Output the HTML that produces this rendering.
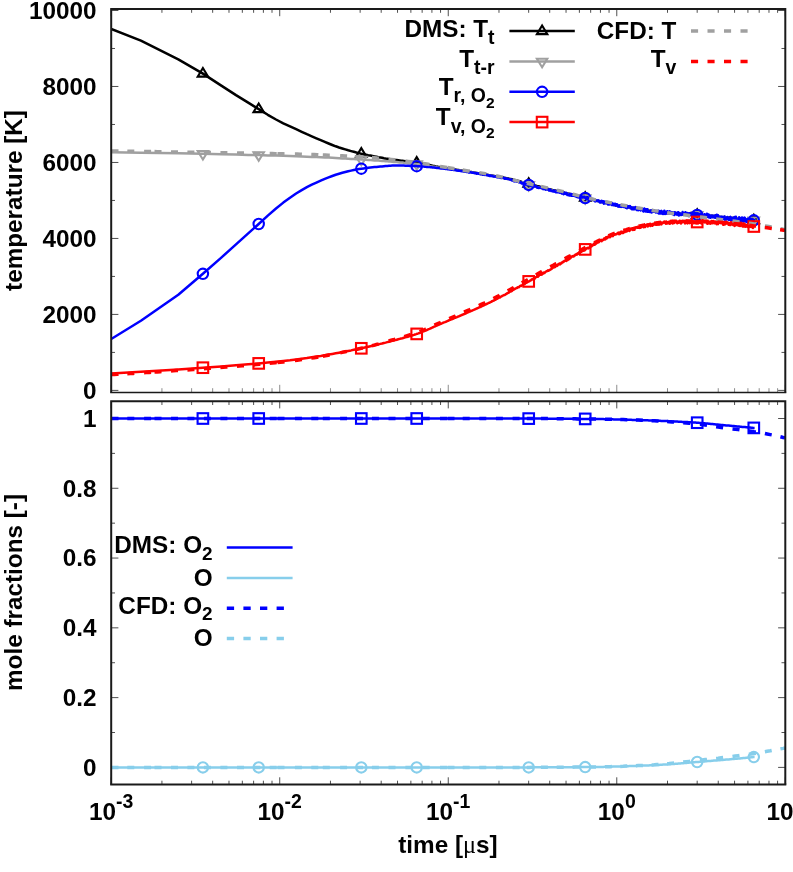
<!DOCTYPE html>
<html><head><meta charset="utf-8"><title>chart</title>
<style>html,body{margin:0;padding:0;background:#fff;}svg{display:block;}text{font-family:"Liberation Sans",sans-serif;}</style></head>
<body>
<svg width="793" height="872" viewBox="0 0 793 872" font-family='"Liberation Sans", sans-serif' font-weight="bold" fill="#000">
<rect width="793" height="872" fill="#fff"/>
<defs><clipPath id="c1"><rect x="111.2" y="9.0" width="674.1" height="383.0"/></clipPath><clipPath id="c2"><rect x="111.2" y="401.2" width="674.1" height="383.3"/></clipPath></defs>
<path d="M111.20 9.00 v7.20 M161.93 9.00 v3.80 M191.61 9.00 v3.80 M212.66 9.00 v3.80 M228.99 9.00 v3.80 M242.34 9.00 v3.80 M253.62 9.00 v3.80 M263.39 9.00 v3.80 M272.01 9.00 v3.80 M279.72 9.00 v7.20 M330.46 9.00 v3.80 M360.13 9.00 v3.80 M381.19 9.00 v3.80 M397.52 9.00 v3.80 M410.86 9.00 v3.80 M422.15 9.00 v3.80 M431.92 9.00 v3.80 M440.54 9.00 v3.80 M448.25 9.00 v7.20 M498.98 9.00 v3.80 M528.66 9.00 v3.80 M549.71 9.00 v3.80 M566.04 9.00 v3.80 M579.39 9.00 v3.80 M590.67 9.00 v3.80 M600.44 9.00 v3.80 M609.06 9.00 v3.80 M616.77 9.00 v7.20 M667.51 9.00 v3.80 M697.18 9.00 v3.80 M718.24 9.00 v3.80 M734.57 9.00 v3.80 M747.91 9.00 v3.80 M759.20 9.00 v3.80 M768.97 9.00 v3.80 M777.59 9.00 v3.80 M785.30 9.00 v7.20" stroke="#3c3c3c" stroke-width="0.9" fill="none"/><path d="M111.20 392.00 v-7.20 M161.93 392.00 v-3.80 M191.61 392.00 v-3.80 M212.66 392.00 v-3.80 M228.99 392.00 v-3.80 M242.34 392.00 v-3.80 M253.62 392.00 v-3.80 M263.39 392.00 v-3.80 M272.01 392.00 v-3.80 M279.72 392.00 v-7.20 M330.46 392.00 v-3.80 M360.13 392.00 v-3.80 M381.19 392.00 v-3.80 M397.52 392.00 v-3.80 M410.86 392.00 v-3.80 M422.15 392.00 v-3.80 M431.92 392.00 v-3.80 M440.54 392.00 v-3.80 M448.25 392.00 v-7.20 M498.98 392.00 v-3.80 M528.66 392.00 v-3.80 M549.71 392.00 v-3.80 M566.04 392.00 v-3.80 M579.39 392.00 v-3.80 M590.67 392.00 v-3.80 M600.44 392.00 v-3.80 M609.06 392.00 v-3.80 M616.77 392.00 v-7.20 M667.51 392.00 v-3.80 M697.18 392.00 v-3.80 M718.24 392.00 v-3.80 M734.57 392.00 v-3.80 M747.91 392.00 v-3.80 M759.20 392.00 v-3.80 M768.97 392.00 v-3.80 M777.59 392.00 v-3.80 M785.30 392.00 v-7.20" stroke="#808080" stroke-width="0.9" fill="none"/>
<path d="M111.20 390.40 h7.20 M785.30 390.40 h-7.20 M111.20 314.42 h7.20 M785.30 314.42 h-7.20 M111.20 238.44 h7.20 M785.30 238.44 h-7.20 M111.20 162.46 h7.20 M785.30 162.46 h-7.20 M111.20 86.48 h7.20 M785.30 86.48 h-7.20 M111.20 10.50 h7.20 M785.30 10.50 h-7.20 M111.20 352.41 h3.80 M785.30 352.41 h-3.80 M111.20 276.43 h3.80 M785.30 276.43 h-3.80 M111.20 200.45 h3.80 M785.30 200.45 h-3.80 M111.20 124.47 h3.80 M785.30 124.47 h-3.80 M111.20 48.49 h3.80 M785.30 48.49 h-3.80" stroke="#3c3c3c" stroke-width="0.9" fill="none"/>
<g clip-path="url(#c1)">
<path d="M111.2 29.0 L140.9 40.6 L178.3 59.3 L202.9 73.6 L221.3 85.6 L236.0 95.1 L248.2 102.6 L258.7 109.1 L267.8 114.8 L276.0 119.5 L283.3 123.3 L290.0 126.4 L296.1 129.2 L301.7 131.8 L306.9 134.2 L311.8 136.3 L316.4 138.3 L320.7 140.1 L324.8 141.9 L328.6 143.5 L332.3 145.0 L335.7 146.3 L339.1 147.5 L342.3 148.5 L345.3 149.4 L348.2 150.3 L351.1 151.1 L353.8 151.8 L356.4 152.5 L358.9 153.1 L361.3 153.7 L363.7 154.2 L366.0 154.7 L368.2 155.2 L370.4 155.6 L372.5 156.0 L374.5 156.4 L376.5 156.8 L378.4 157.2 L380.3 157.5 L382.1 157.8 L383.9 158.2 L385.6 158.5 L387.3 158.7 L389.0 159.0 L390.6 159.3 L392.2 159.5 L393.8 159.7 L395.3 159.9 L396.8 160.1 L398.2 160.3 L399.7 160.5 L401.1 160.7 L402.5 160.8 L403.8 161.0 L405.2 161.2 L406.5 161.3 L407.7 161.5 L409.0 161.6 L410.3 161.8 L411.5 162.0 L412.7 162.1 L413.9 162.3 L415.0 162.4 L416.2 162.6 L417.3 162.8 L418.4 163.0 L419.5 163.1 L420.6 163.3 L421.6 163.5 L422.7 163.7 L423.7 163.9 L424.7 164.1 L425.7 164.3 L426.7 164.5 L427.7 164.7 L428.6 164.9 L429.6 165.1 L430.5 165.3 L431.5 165.5 L432.4 165.7 L433.3 165.9 L434.2 166.0 L435.1 166.2 L435.9 166.4 L436.8 166.6 L437.6 166.7 L438.5 166.9 L439.3 167.0 L440.1 167.2 L440.9 167.3 L441.7 167.5 L442.5 167.6 L443.3 167.7 L444.1 167.9 L444.9 168.0 L445.6 168.1 L446.4 168.2 L447.1 168.4 L447.9 168.5 L448.6 168.6 L449.3 168.7 L450.1 168.8 L450.8 168.9 L451.5 169.0 L452.2 169.1 L452.9 169.2 L453.5 169.3 L454.2 169.4 L454.9 169.5 L455.6 169.6 L456.2 169.7 L456.9 169.8 L457.5 169.9 L458.2 170.0 L458.8 170.1 L459.4 170.2 L460.1 170.3 L460.7 170.4 L461.3 170.5 L461.9 170.6 L462.5 170.7 L463.1 170.8 L463.7 170.9 L464.3 170.9 L464.9 171.0 L465.5 171.1 L466.0 171.2 L466.6 171.3 L467.2 171.4 L467.7 171.5 L468.3 171.6 L468.8 171.7 L469.4 171.8 L469.9 171.9 L470.5 172.0 L471.0 172.0 L471.6 172.1 L472.1 172.2 L472.6 172.3 L473.1 172.4 L473.7 172.5 L474.2 172.6 L474.7 172.7 L475.2 172.7 L475.7 172.8 L476.2 172.9 L476.7 173.0 L477.2 173.1 L477.7 173.2 L478.2 173.2 L478.7 173.3 L479.1 173.4 L479.6 173.5 L480.1 173.6 L480.6 173.7 L481.0 173.7 L481.5 173.8 L482.0 173.9 L482.4 174.0 L482.9 174.1 L483.3 174.1 L483.8 174.2 L484.2 174.3 L484.7 174.4 L485.1 174.5 L485.6 174.5 L486.0 174.6 L486.4 174.7 L486.9 174.8 L487.3 174.8 L487.7 174.9 L488.2 175.0 L488.6 175.0 L489.0 175.1 L489.4 175.2 L489.8 175.3 L490.2 175.3 L490.7 175.4 L491.1 175.5 L491.5 175.6 L491.9 175.6 L492.3 175.7 L493.1 175.8 L493.9 176.0 L494.6 176.1 L495.4 176.2 L496.2 176.4 L496.9 176.5 L497.7 176.6 L498.4 176.7 L499.2 176.9 L499.9 177.0 L500.6 177.1 L501.3 177.2 L502.0 177.3 L502.7 177.5 L503.4 177.6 L504.1 177.7 L504.8 177.9 L505.5 178.0 L506.1 178.1 L506.8 178.2 L507.4 178.4 L508.1 178.5 L508.7 178.6 L509.4 178.8 L510.0 178.9 L510.6 179.0 L511.2 179.1 L511.9 179.3 L512.5 179.5 L513.1 179.6 L513.7 179.8 L514.3 179.9 L514.9 180.1 L515.5 180.2 L516.0 180.3 L516.6 180.5 L517.2 180.6 L517.8 180.9 L518.3 181.0 L518.9 181.2 L519.4 181.3 L520.0 181.5 L520.5 181.5 L521.1 181.7 L521.6 181.9 L522.2 182.1 L522.7 182.2 L523.2 182.3 L523.7 182.5 L524.3 182.6 L524.8 182.7 L525.3 182.9 L525.8 183.0 L526.3 183.2 L526.8 183.4 L527.3 183.5 L527.8 183.6 L528.3 183.7 L528.8 183.9 L529.3 184.0 L529.7 184.1 L530.2 184.3 L530.7 184.4 L531.2 184.4 L531.6 184.7 L532.1 184.7 L532.6 184.8 L533.0 185.0 L533.5 185.1 L533.9 185.1 L534.4 185.4 L534.9 185.4 L535.3 185.5 L535.7 185.7 L536.2 185.8 L536.6 185.9 L537.1 186.1 L537.5 186.2 L537.9 186.3 L538.4 186.3 L538.8 186.5 L539.2 186.6 L539.6 186.6 L540.0 186.8 L540.5 186.9 L540.9 187.1 L541.3 187.2 L541.7 187.2 L542.1 187.3 L542.5 187.5 L542.9 187.5 L543.3 187.6 L543.9 187.8 L544.5 187.9 L545.1 188.2 L545.7 188.4 L546.2 188.3 L546.8 188.6 L547.4 188.8 L548.0 189.0 L548.5 188.9 L549.1 189.1 L549.6 189.4 L550.2 189.5 L550.7 189.5 L551.3 189.7 L551.8 189.9 L552.3 190.0 L552.8 190.0 L553.4 190.3 L553.9 190.4 L554.4 190.5 L554.9 190.5 L555.4 190.6 L555.9 190.8 L556.4 191.1 L556.9 190.9 L557.4 191.1 L557.9 191.3 L558.4 191.3 L558.9 191.4 L559.4 191.5 L559.9 191.8 L560.3 192.0 L560.8 192.0 L561.3 192.0 L561.7 192.2 L562.2 192.4 L562.7 192.6 L563.1 192.7 L563.6 192.6 L564.0 192.6 L564.5 193.0 L564.9 193.1 L565.4 193.1 L565.8 193.3 L566.3 193.4 L566.7 193.4 L567.1 193.6 L567.6 193.4 L568.0 193.6 L568.4 193.7 L568.8 193.8 L569.3 194.2 L569.7 193.9 L570.1 194.3 L570.5 194.1 L570.9 194.3 L571.3 194.5 L571.7 194.5 L572.1 194.7 L572.6 194.8 L573.0 194.8 L573.5 195.1 L574.0 195.0 L574.5 195.1 L575.1 195.3 L575.6 195.4 L576.1 195.5 L576.6 195.9 L577.1 196.0 L577.6 195.8 L578.1 196.0 L578.6 196.1 L579.1 196.3 L579.6 196.3 L580.1 196.5 L580.5 196.8 L581.0 196.7 L581.5 196.9 L582.0 197.0 L582.4 197.2 L582.9 197.0 L583.4 197.4 L583.8 197.6 L584.3 197.6 L584.7 197.5 L585.2 197.8 L585.6 198.0 L586.1 198.0 L586.5 197.9 L587.0 198.4 L587.4 198.5 L587.8 198.4 L588.3 198.5 L588.7 198.4 L589.1 199.0 L589.6 199.0 L590.0 199.0 L590.4 199.2 L590.8 199.0 L591.2 199.1 L591.7 199.2 L592.1 199.5 L592.5 199.3 L592.9 199.9 L593.3 199.7 L593.7 199.8 L594.1 199.7 L594.6 200.2 L595.1 200.4 L595.6 200.4 L596.1 200.3 L596.5 200.7 L597.0 200.5 L597.5 201.0 L598.0 201.0 L598.4 200.9 L598.9 201.2 L599.4 201.4 L599.8 201.3 L600.3 201.7 L600.8 201.6 L601.2 202.0 L601.7 202.0 L602.1 201.7 L602.6 202.2 L603.0 202.1 L603.4 202.4 L603.9 202.4 L604.3 202.5 L604.8 202.8 L605.2 202.4 L605.6 202.8 L606.0 202.8 L606.5 202.7 L606.9 203.2 L607.3 203.2 L607.7 203.5 L608.1 203.4 L608.5 203.3 L608.9 203.8 L609.3 203.4 L609.8 203.4 L610.2 203.9 L610.6 203.8 L611.1 203.9 L611.6 204.3 L612.1 204.1 L612.5 204.5 L613.0 204.5 L613.4 204.4 L613.9 204.3 L614.4 204.5 L614.8 205.1 L615.3 204.8 L615.7 204.7 L616.2 204.9 L616.6 205.4 L617.0 204.9 L617.5 205.5 L617.9 205.1 L618.3 205.8 L618.8 205.5 L619.2 205.3 L619.6 206.0 L620.0 205.6 L620.5 206.0 L620.9 205.9 L621.3 205.7 L621.7 205.8 L622.1 205.9 L622.5 205.9 L622.9 205.9 L623.3 206.0 L623.7 206.8 L624.2 206.2 L624.6 206.6 L625.1 206.4 L625.6 206.5 L626.0 207.0 L626.5 207.2 L626.9 207.0 L627.4 206.7 L627.8 207.5 L628.2 206.9 L628.7 207.2 L629.1 207.4 L629.5 207.8 L630.0 207.8 L630.4 207.7 L630.8 207.6 L631.2 208.0 L631.7 208.1 L632.1 208.2 L632.5 208.1 L632.9 207.7 L633.3 207.9 L633.7 208.2 L634.1 208.3 L634.5 208.6 L634.9 208.2 L635.4 208.6 L635.8 208.5 L636.3 208.9 L636.7 208.5 L637.2 208.8 L637.6 208.5 L638.1 208.7 L638.5 209.4 L638.9 208.9 L639.4 209.5 L639.8 209.3 L640.2 208.9 L640.6 209.7 L641.1 209.1 L641.5 209.8 L641.9 209.2 L642.3 209.8 L642.7 209.4 L643.1 209.7 L643.5 210.3 L643.9 209.9 L644.3 210.2 L644.7 210.3 L645.2 209.8 L645.6 210.5 L646.1 210.7 L646.5 210.0 L647.0 210.5 L647.4 210.3 L647.8 210.8 L648.3 210.1 L648.7 210.7 L649.1 211.0 L649.5 211.0 L650.0 210.4 L650.4 211.2 L650.8 210.7 L651.2 211.3 L651.6 211.0 L652.0 210.8 L652.4 211.4 L652.8 211.5 L653.2 211.4 L653.7 211.8 L654.1 211.1 L654.5 211.1 L655.0 211.1 L655.4 211.6 L655.8 211.5 L656.3 211.5 L656.7 211.6 L657.1 211.5 L657.5 211.2 L658.0 211.8 L658.4 211.6 L658.8 211.8 L659.2 212.4 L659.6 211.6 L660.0 212.2 L660.4 212.2 L660.8 211.9 L661.3 212.1 L661.7 212.7 L662.1 212.1 L662.6 212.5 L663.0 212.7 L663.4 212.2 L663.8 213.0 L664.3 212.6 L664.7 212.5 L665.1 212.8 L665.5 212.5 L665.9 212.9 L666.3 212.4 L666.8 213.2 L667.2 212.8 L667.6 212.5 L668.0 212.7 L668.4 213.3 L668.8 213.2 L669.3 212.9 L669.7 212.8 L670.1 212.9 L670.5 213.6 L671.0 212.6 L671.4 213.6 L671.8 213.6 L672.2 212.9 L672.6 213.0 L673.0 213.3 L673.4 213.6 L673.8 213.8 L674.2 213.9 L674.7 213.1 L675.1 213.0 L675.5 213.4 L675.9 213.5 L676.4 213.7 L676.8 213.1 L677.2 213.7 L677.6 214.1 L678.0 214.1 L678.4 214.2 L678.9 214.2 L679.3 214.3 L679.7 213.2 L680.1 214.3 L680.5 213.5 L680.9 213.6 L681.4 213.8 L681.8 214.4 L682.2 214.0 L682.6 213.7 L683.0 213.8 L683.4 214.5 L683.9 214.4 L684.3 213.6 L684.7 213.7 L685.1 213.9 L685.5 213.7 L685.9 214.2 L686.3 213.8 L686.8 214.3 L687.2 214.8 L687.6 214.7 L688.0 213.7 L688.4 213.9 L688.8 214.2 L689.2 214.6 L689.6 214.2 L690.1 214.1 L690.5 214.2 L690.9 214.1 L691.3 215.0 L691.7 214.8 L692.1 214.4 L692.5 214.9 L693.0 214.6 L693.4 214.7 L693.8 214.5 L694.2 214.7 L694.6 215.4 L695.0 215.2 L695.4 215.3 L695.8 214.3 L696.2 214.9 L696.7 214.7 L697.1 214.4 L697.5 214.8 L697.9 214.4 L698.3 214.7 L698.7 215.5 L699.1 215.4 L699.5 215.4 L699.9 214.6 L700.3 214.7 L700.8 214.6 L701.2 214.7 L701.6 214.8 L702.0 216.0 L702.4 216.0 L702.8 215.0 L703.2 215.1 L703.6 216.2 L704.0 215.7 L704.5 215.4 L704.9 215.6 L705.3 215.3 L705.7 215.8 L706.1 216.1 L706.5 215.8 L706.9 216.3 L707.3 215.3 L707.7 216.1 L708.1 216.7 L708.6 215.5 L709.0 216.0 L709.4 216.3 L709.8 215.9 L710.2 216.9 L710.6 216.2 L711.0 216.2 L711.4 216.9 L711.8 215.6 L712.2 217.0 L712.7 215.8 L713.1 216.3 L713.5 216.5 L713.9 216.5 L714.3 215.9 L714.7 216.3 L715.1 216.4 L715.5 217.4 L715.9 217.4 L716.4 216.9 L716.8 217.5 L717.2 217.5 L717.6 216.7 L718.0 216.4 L718.4 217.2 L718.8 216.8 L719.2 216.3 L719.6 217.9 L720.0 218.0 L720.4 217.3 L720.9 217.5 L721.3 217.6 L721.7 218.1 L722.1 217.4 L722.5 217.6 L722.9 217.0 L723.3 217.1 L723.7 217.6 L724.1 217.2 L724.5 216.9 L724.9 217.5 L725.3 218.2 L725.8 217.4 L726.2 218.5 L726.6 218.2 L727.0 218.2 L727.4 218.6 L727.8 217.3 L728.2 217.5 L728.6 218.8 L729.0 218.8 L729.4 217.5 L729.8 218.7 L730.2 217.4 L730.6 217.7 L731.0 217.7 L731.5 218.0 L731.9 218.2 L732.3 219.2 L732.7 218.4 L733.1 217.9 L733.5 218.2 L733.9 217.7 L734.3 217.8 L734.7 218.6 L735.1 218.8 L735.5 218.3 L735.9 218.6 L736.3 218.1 L736.7 219.2 L737.2 218.7 L737.6 218.4 L738.0 219.0 L738.4 218.5 L738.8 218.7 L739.2 218.4 L739.6 219.7 L740.0 218.8 L740.4 220.1 L740.8 219.1 L741.2 218.7 L741.6 219.7 L742.0 219.8 L742.5 220.1 L742.9 218.8 L743.3 220.0 L743.7 220.2 L744.1 219.2 L744.5 219.5 L744.9 219.8 L745.3 219.2 L745.7 220.4 L746.1 220.1 L746.5 220.4 L746.9 219.7 L747.3 219.9 L747.7 219.3 L748.1 219.5 L748.5 220.4 L748.9 220.8 L749.4 219.3 L749.8 219.1 L750.2 219.2 L750.6 220.0 L751.0 220.7 L751.4 219.6 L751.8 220.1 L752.2 220.2 L752.6 220.9 L753.0 219.6 L753.4 219.4 L753.8 220.4 L754.2 220.1 L754.6 220.0" fill="none" stroke="#000000" stroke-width="2.50" stroke-linejoin="round"/>
<polygon points="202.9,68.0 197.7,76.6 208.1,76.6" fill="none" stroke="#000000" stroke-width="2.10" stroke-linejoin="miter"/>
<polygon points="258.7,103.5 253.5,112.1 263.9,112.1" fill="none" stroke="#000000" stroke-width="2.10" stroke-linejoin="miter"/>
<polygon points="361.3,148.1 356.1,156.7 366.5,156.7" fill="none" stroke="#000000" stroke-width="2.10" stroke-linejoin="miter"/>
<polygon points="416.7,157.1 411.5,165.7 421.9,165.7" fill="none" stroke="#000000" stroke-width="2.10" stroke-linejoin="miter"/>
<polygon points="528.7,178.2 523.5,186.8 533.9,186.8" fill="none" stroke="#000000" stroke-width="2.10" stroke-linejoin="miter"/>
<polygon points="585.2,192.2 580.0,200.8 590.4,200.8" fill="none" stroke="#000000" stroke-width="2.10" stroke-linejoin="miter"/>
<polygon points="697.2,209.3 692.0,217.9 702.4,217.9" fill="none" stroke="#000000" stroke-width="2.10" stroke-linejoin="miter"/>
<polygon points="753.8,214.7 748.6,223.3 759.0,223.3" fill="none" stroke="#000000" stroke-width="2.10" stroke-linejoin="miter"/>
<path d="M111.2 152.3 L140.9 152.7 L178.3 153.3 L202.9 153.8 L221.3 154.2 L236.0 154.5 L248.2 154.9 L258.7 155.1 L267.8 155.4 L276.0 155.6 L283.3 155.8 L290.0 156.0 L296.1 156.3 L301.7 156.5 L306.9 156.7 L311.8 156.9 L316.4 157.1 L320.7 157.3 L324.8 157.5 L328.6 157.6 L332.3 157.8 L335.7 158.0 L339.1 158.2 L342.3 158.4 L345.3 158.5 L348.2 158.7 L351.1 158.9 L353.8 159.0 L356.4 159.2 L358.9 159.3 L361.3 159.5 L363.7 159.6 L366.0 159.8 L368.2 159.9 L370.4 160.1 L372.5 160.2 L374.5 160.4 L376.5 160.5 L378.4 160.6 L380.3 160.8 L382.1 160.9 L383.9 161.1 L385.6 161.2 L387.3 161.3 L389.0 161.5 L390.6 161.6 L392.2 161.7 L393.8 161.9 L395.3 162.0 L396.8 162.1 L398.2 162.2 L399.7 162.4 L401.1 162.5 L402.5 162.6 L403.8 162.8 L405.2 162.9 L406.5 163.0 L407.7 163.2 L409.0 163.3 L410.3 163.4 L411.5 163.5 L412.7 163.7 L413.9 163.8 L415.0 163.9 L416.2 164.1 L417.3 164.2 L418.4 164.3 L419.5 164.5 L420.6 164.6 L421.6 164.7 L422.7 164.9 L423.7 165.1 L424.7 165.2 L425.7 165.4 L426.7 165.5 L427.7 165.7 L428.6 165.9 L429.6 166.0 L430.5 166.2 L431.5 166.4 L432.4 166.5 L433.3 166.7 L434.2 166.8 L435.1 167.0 L435.9 167.1 L436.8 167.3 L437.6 167.4 L438.5 167.6 L439.3 167.7 L440.1 167.8 L440.9 167.9 L441.7 168.1 L442.5 168.2 L443.3 168.3 L444.1 168.4 L444.9 168.5 L445.6 168.6 L446.4 168.7 L447.1 168.8 L447.9 169.0 L448.6 169.1 L449.3 169.2 L450.1 169.3 L450.8 169.4 L451.5 169.5 L452.2 169.5 L452.9 169.6 L453.5 169.7 L454.2 169.8 L454.9 169.9 L455.6 170.0 L456.2 170.1 L456.9 170.2 L457.5 170.3 L458.2 170.4 L458.8 170.5 L459.4 170.6 L460.1 170.6 L460.7 170.7 L461.3 170.8 L461.9 170.9 L462.5 171.0 L463.1 171.1 L463.7 171.2 L464.3 171.3 L464.9 171.4 L465.5 171.4 L466.0 171.5 L466.6 171.6 L467.2 171.7 L467.7 171.8 L468.3 171.9 L468.8 172.0 L469.4 172.1 L469.9 172.1 L470.5 172.2 L471.0 172.3 L471.6 172.4 L472.1 172.5 L472.6 172.6 L473.1 172.7 L473.7 172.7 L474.2 172.8 L474.7 172.9 L475.2 173.0 L475.7 173.1 L476.2 173.2 L476.7 173.3 L477.2 173.3 L477.7 173.4 L478.2 173.5 L478.7 173.6 L479.1 173.7 L479.6 173.7 L480.1 173.8 L480.6 173.9 L481.0 174.0 L481.5 174.1 L482.0 174.2 L482.4 174.2 L482.9 174.3 L483.3 174.4 L483.8 174.5 L484.2 174.6 L484.7 174.6 L485.1 174.7 L485.6 174.8 L486.0 174.9 L486.4 175.0 L486.9 175.0 L487.3 175.1 L487.7 175.2 L488.2 175.3 L488.6 175.3 L489.0 175.4 L489.4 175.5 L489.8 175.6 L490.2 175.6 L490.7 175.7 L491.1 175.8 L491.5 175.9 L491.9 175.9 L492.3 176.0 L493.1 176.2 L493.9 176.3 L494.6 176.4 L495.4 176.6 L496.2 176.8 L496.9 176.9 L497.7 177.0 L498.4 177.2 L499.2 177.3 L499.9 177.5 L500.6 177.6 L501.3 177.7 L502.0 177.9 L502.7 178.0 L503.4 178.2 L504.1 178.3 L504.8 178.4 L505.5 178.6 L506.1 178.7 L506.8 178.9 L507.4 179.0 L508.1 179.1 L508.7 179.3 L509.4 179.5 L510.0 179.6 L510.6 179.7 L511.2 179.9 L511.9 180.1 L512.5 180.2 L513.1 180.4 L513.7 180.6 L514.3 180.7 L514.9 180.8 L515.5 181.0 L516.0 181.2 L516.6 181.4 L517.2 181.5 L517.8 181.7 L518.3 181.9 L518.9 182.0 L519.4 182.2 L520.0 182.4 L520.5 182.5 L521.1 182.7 L521.6 182.9 L522.2 183.1 L522.7 183.3 L523.2 183.3 L523.7 183.5 L524.3 183.7 L524.8 183.8 L525.3 183.9 L525.8 184.1 L526.3 184.3 L526.8 184.5 L527.3 184.6 L527.8 184.7 L528.3 184.8 L528.8 185.0 L529.3 185.0 L529.7 185.2 L530.2 185.3 L530.7 185.5 L531.2 185.5 L531.6 185.7 L532.1 185.8 L532.6 186.0 L533.0 186.0 L533.5 186.1 L533.9 186.2 L534.4 186.3 L534.9 186.5 L535.3 186.6 L535.7 186.6 L536.2 186.9 L536.6 186.9 L537.1 187.0 L537.5 187.2 L537.9 187.2 L538.4 187.3 L538.8 187.5 L539.2 187.5 L539.6 187.7 L540.0 187.7 L540.5 187.9 L540.9 188.0 L541.3 188.0 L541.7 188.1 L542.1 188.3 L542.5 188.4 L542.9 188.4 L543.3 188.5 L543.9 188.8 L544.5 188.8 L545.1 189.0 L545.7 189.0 L546.2 189.2 L546.8 189.4 L547.4 189.5 L548.0 189.7 L548.5 189.8 L549.1 189.9 L549.6 190.1 L550.2 190.2 L550.7 190.2 L551.3 190.5 L551.8 190.5 L552.3 190.6 L552.8 190.7 L553.4 191.0 L553.9 191.0 L554.4 191.0 L554.9 191.3 L555.4 191.2 L555.9 191.4 L556.4 191.6 L556.9 191.7 L557.4 191.7 L557.9 191.8 L558.4 192.0 L558.9 192.2 L559.4 192.3 L559.9 192.3 L560.3 192.5 L560.8 192.6 L561.3 192.8 L561.7 192.8 L562.2 193.0 L562.7 192.9 L563.1 193.0 L563.6 193.1 L564.0 193.3 L564.5 193.5 L564.9 193.5 L565.4 193.6 L565.8 193.5 L566.3 193.8 L566.7 193.8 L567.1 193.9 L567.6 193.9 L568.0 194.2 L568.4 194.3 L568.8 194.4 L569.3 194.5 L569.7 194.5 L570.1 194.7 L570.5 194.7 L570.9 194.9 L571.3 194.8 L571.7 195.0 L572.1 194.9 L572.6 195.0 L573.0 195.4 L573.5 195.3 L574.0 195.3 L574.5 195.6 L575.1 195.9 L575.6 195.9 L576.1 196.1 L576.6 196.2 L577.1 196.1 L577.6 196.1 L578.1 196.2 L578.6 196.4 L579.1 196.6 L579.6 196.9 L580.1 196.6 L580.5 197.0 L581.0 197.1 L581.5 197.2 L582.0 197.0 L582.4 197.1 L582.9 197.5 L583.4 197.6 L583.8 197.6 L584.3 197.7 L584.7 197.6 L585.2 198.2 L585.6 198.2 L586.1 198.4 L586.5 198.4 L587.0 198.3 L587.4 198.6 L587.8 198.4 L588.3 198.7 L588.7 198.6 L589.1 198.8 L589.6 199.2 L590.0 199.0 L590.4 199.4 L590.8 199.3 L591.2 199.3 L591.7 199.3 L592.1 199.3 L592.5 199.7 L592.9 199.9 L593.3 199.7 L593.7 200.0 L594.1 200.3 L594.6 200.1 L595.1 200.5 L595.6 200.6 L596.1 200.5 L596.5 200.7 L597.0 200.5 L597.5 200.9 L598.0 201.2 L598.4 201.0 L598.9 201.0 L599.4 201.1 L599.8 201.3 L600.3 201.4 L600.8 201.9 L601.2 201.8 L601.7 201.9 L602.1 201.9 L602.6 202.0 L603.0 202.2 L603.4 202.5 L603.9 202.2 L604.3 202.5 L604.8 202.7 L605.2 203.0 L605.6 202.7 L606.0 202.8 L606.5 203.0 L606.9 202.9 L607.3 203.2 L607.7 203.6 L608.1 203.2 L608.5 203.4 L608.9 203.3 L609.3 203.6 L609.8 204.0 L610.2 203.8 L610.6 203.7 L611.1 203.9 L611.6 204.2 L612.1 204.4 L612.5 204.2 L613.0 204.4 L613.4 204.7 L613.9 204.3 L614.4 205.0 L614.8 204.7 L615.3 204.7 L615.7 205.1 L616.2 204.8 L616.6 204.8 L617.0 205.0 L617.5 205.4 L617.9 205.0 L618.3 205.4 L618.8 205.3 L619.2 205.6 L619.6 205.4 L620.0 205.9 L620.5 206.1 L620.9 205.8 L621.3 205.9 L621.7 206.1 L622.1 206.3 L622.5 205.9 L622.9 206.4 L623.3 206.6 L623.7 206.6 L624.2 206.4 L624.6 206.8 L625.1 206.7 L625.6 206.5 L626.0 206.7 L626.5 207.0 L626.9 207.0 L627.4 207.3 L627.8 207.3 L628.2 207.0 L628.7 207.2 L629.1 207.6 L629.5 207.4 L630.0 207.3 L630.4 208.0 L630.8 207.6 L631.2 207.6 L631.7 207.8 L632.1 207.7 L632.5 207.8 L632.9 208.2 L633.3 208.4 L633.7 208.1 L634.1 208.0 L634.5 208.3 L634.9 208.3 L635.4 208.4 L635.8 208.3 L636.3 208.9 L636.7 208.5 L637.2 208.4 L637.6 209.0 L638.1 209.2 L638.5 208.8 L638.9 208.8 L639.4 209.2 L639.8 209.6 L640.2 209.1 L640.6 209.4 L641.1 209.3 L641.5 209.8 L641.9 209.6 L642.3 209.6 L642.7 209.9 L643.1 209.8 L643.5 209.6 L643.9 209.9 L644.3 210.4 L644.7 210.3 L645.2 210.2 L645.6 210.4 L646.1 209.9 L646.5 210.3 L647.0 210.8 L647.4 210.2 L647.8 211.0 L648.3 210.9 L648.7 210.8 L649.1 210.6 L649.5 210.4 L650.0 210.6 L650.4 211.1 L650.8 210.9 L651.2 211.3 L651.6 210.8 L652.0 211.4 L652.4 211.5 L652.8 211.4 L653.2 210.9 L653.7 211.0 L654.1 210.9 L654.5 211.0 L655.0 211.7 L655.4 211.5 L655.8 211.8 L656.3 211.4 L656.7 211.5 L657.1 212.1 L657.5 212.3 L658.0 211.4 L658.4 212.1 L658.8 212.0 L659.2 211.4 L659.6 212.1 L660.0 211.8 L660.4 211.9 L660.8 212.6 L661.3 212.4 L661.7 211.7 L662.1 212.4 L662.6 211.8 L663.0 212.8 L663.4 212.5 L663.8 212.6 L664.3 211.9 L664.7 212.1 L665.1 212.6 L665.5 212.5 L665.9 213.0 L666.3 212.4 L666.8 212.6 L667.2 212.3 L667.6 212.8 L668.0 213.3 L668.4 212.6 L668.8 213.2 L669.3 212.6 L669.7 213.4 L670.1 213.0 L670.5 212.6 L671.0 213.4 L671.4 213.6 L671.8 212.7 L672.2 212.7 L672.6 212.9 L673.0 213.3 L673.4 213.8 L673.8 213.7 L674.2 213.1 L674.7 212.8 L675.1 213.5 L675.5 213.5 L675.9 213.2 L676.4 213.6 L676.8 214.1 L677.2 213.1 L677.6 213.4 L678.0 214.0 L678.4 213.2 L678.9 213.2 L679.3 213.3 L679.7 214.1 L680.1 213.3 L680.5 213.3 L680.9 214.0 L681.4 214.2 L681.8 214.2 L682.2 213.8 L682.6 214.4 L683.0 213.5 L683.4 213.9 L683.9 213.8 L684.3 214.1 L684.7 213.7 L685.1 213.6 L685.5 214.7 L685.9 213.9 L686.3 214.2 L686.8 214.7 L687.2 214.0 L687.6 214.1 L688.0 214.4 L688.4 213.7 L688.8 213.7 L689.2 214.5 L689.6 214.2 L690.1 213.8 L690.5 214.2 L690.9 214.7 L691.3 214.8 L691.7 214.5 L692.1 214.2 L692.5 215.0 L693.0 214.2 L693.4 215.0 L693.8 214.2 L694.2 215.3 L694.6 215.1 L695.0 214.8 L695.4 214.7 L695.8 214.9 L696.2 215.1 L696.7 215.0 L697.1 215.2 L697.5 214.4 L697.9 214.9 L698.3 215.4 L698.7 215.0 L699.1 215.8 L699.5 215.2 L699.9 214.9 L700.3 215.8 L700.8 215.1 L701.2 215.4 L701.6 215.5 L702.0 215.9 L702.4 215.0 L702.8 216.0 L703.2 215.6 L703.6 215.3 L704.0 215.3 L704.5 216.3 L704.9 216.3 L705.3 215.7 L705.7 215.5 L706.1 216.5 L706.5 215.1 L706.9 215.2 L707.3 215.9 L707.7 216.1 L708.1 215.2 L708.6 215.5 L709.0 215.4 L709.4 215.7 L709.8 215.6 L710.2 215.6 L710.6 215.6 L711.0 216.1 L711.4 215.7 L711.8 216.8 L712.2 216.2 L712.7 215.8 L713.1 216.7 L713.5 217.0 L713.9 216.3 L714.3 215.8 L714.7 216.9 L715.1 217.1 L715.5 217.3 L715.9 217.1 L716.4 217.0 L716.8 216.6 L717.2 216.5 L717.6 216.2 L718.0 217.5 L718.4 217.1 L718.8 216.7 L719.2 216.5 L719.6 216.8 L720.0 217.6 L720.4 216.8 L720.9 216.5 L721.3 217.1 L721.7 217.1 L722.1 217.7 L722.5 217.5 L722.9 217.5 L723.3 218.3 L723.7 218.2 L724.1 217.0 L724.5 217.2 L724.9 217.6 L725.3 217.0 L725.8 218.2 L726.2 218.3 L726.6 217.5 L727.0 218.6 L727.4 218.1 L727.8 217.5 L728.2 218.3 L728.6 218.4 L729.0 218.5 L729.4 219.0 L729.8 218.9 L730.2 218.1 L730.6 218.2 L731.0 217.5 L731.5 218.2 L731.9 217.9 L732.3 217.8 L732.7 219.1 L733.1 217.7 L733.5 217.9 L733.9 218.9 L734.3 218.8 L734.7 218.6 L735.1 219.3 L735.5 218.3 L735.9 218.3 L736.3 218.9 L736.7 218.2 L737.2 219.3 L737.6 219.8 L738.0 219.6 L738.4 219.7 L738.8 218.3 L739.2 219.0 L739.6 219.9 L740.0 219.8 L740.4 219.4 L740.8 219.6 L741.2 218.9 L741.6 218.9 L742.0 218.6 L742.5 220.2 L742.9 219.1 L743.3 220.4 L743.7 218.6 L744.1 220.1 L744.5 219.6 L744.9 218.8 L745.3 220.0 L745.7 220.1 L746.1 220.1 L746.5 220.1 L746.9 220.1 L747.3 220.3 L747.7 219.6 L748.1 220.8 L748.5 219.9 L748.9 219.5 L749.4 220.9 L749.8 219.6 L750.2 219.9 L750.6 220.5 L751.0 220.7 L751.4 219.8 L751.8 219.3 L752.2 220.4 L752.6 220.4 L753.0 220.7 L753.4 219.8 L753.8 221.0 L754.2 220.9 L754.6 221.1" fill="none" stroke="#a0a0a0" stroke-width="2.50" stroke-linejoin="round"/>
<polygon points="202.9,159.5 197.7,151.0 208.1,151.0" fill="none" stroke="#a0a0a0" stroke-width="2.10" stroke-linejoin="miter"/>
<polygon points="258.7,160.8 253.5,152.3 263.9,152.3" fill="none" stroke="#a0a0a0" stroke-width="2.10" stroke-linejoin="miter"/>
<polygon points="361.3,165.2 356.1,156.7 366.5,156.7" fill="none" stroke="#a0a0a0" stroke-width="2.10" stroke-linejoin="miter"/>
<polygon points="416.7,169.8 411.5,161.3 421.9,161.3" fill="none" stroke="#a0a0a0" stroke-width="2.10" stroke-linejoin="miter"/>
<polygon points="528.7,190.6 523.5,182.1 533.9,182.1" fill="none" stroke="#a0a0a0" stroke-width="2.10" stroke-linejoin="miter"/>
<polygon points="585.2,203.7 580.0,195.2 590.4,195.2" fill="none" stroke="#a0a0a0" stroke-width="2.10" stroke-linejoin="miter"/>
<polygon points="697.2,220.6 692.0,212.1 702.4,212.1" fill="none" stroke="#a0a0a0" stroke-width="2.10" stroke-linejoin="miter"/>
<polygon points="753.8,226.0 748.6,217.5 759.0,217.5" fill="none" stroke="#a0a0a0" stroke-width="2.10" stroke-linejoin="miter"/>
<path d="M111.2 339.0 L140.9 320.8 L178.3 294.8 L202.9 273.8 L221.3 257.6 L236.0 244.4 L248.2 233.4 L258.7 224.0 L267.8 215.6 L276.0 208.5 L283.3 202.6 L290.0 197.7 L296.1 193.5 L301.7 190.1 L306.9 187.2 L311.8 184.7 L316.4 182.6 L320.7 180.7 L324.8 178.9 L328.6 177.4 L332.3 176.0 L335.7 174.8 L339.1 173.8 L342.3 172.8 L345.3 172.0 L348.2 171.2 L351.1 170.6 L353.8 170.0 L356.4 169.5 L358.9 169.1 L361.3 168.7 L363.7 168.4 L366.0 168.1 L368.2 167.8 L370.4 167.5 L372.5 167.3 L374.5 167.1 L376.5 166.9 L378.4 166.7 L380.3 166.5 L382.1 166.4 L383.9 166.2 L385.6 166.0 L387.3 165.9 L389.0 165.8 L390.6 165.7 L392.2 165.6 L393.8 165.5 L395.3 165.5 L396.8 165.5 L398.2 165.5 L399.7 165.5 L401.1 165.6 L402.5 165.6 L403.8 165.6 L405.2 165.7 L406.5 165.7 L407.7 165.8 L409.0 165.8 L410.3 165.9 L411.5 165.9 L412.7 166.0 L413.9 166.0 L415.0 166.1 L416.2 166.1 L417.3 166.2 L418.4 166.3 L419.5 166.3 L420.6 166.4 L421.6 166.5 L422.7 166.5 L423.7 166.6 L424.7 166.7 L425.7 166.8 L426.7 166.9 L427.7 167.0 L428.6 167.0 L429.6 167.1 L430.5 167.2 L431.5 167.3 L432.4 167.4 L433.3 167.5 L434.2 167.6 L435.1 167.7 L435.9 167.8 L436.8 167.9 L437.6 168.0 L438.5 168.1 L439.3 168.2 L440.1 168.3 L440.9 168.4 L441.7 168.5 L442.5 168.6 L443.3 168.6 L444.1 168.7 L444.9 168.8 L445.6 168.9 L446.4 169.0 L447.1 169.1 L447.9 169.2 L448.6 169.3 L449.3 169.3 L450.1 169.5 L450.8 169.6 L451.5 169.7 L452.2 169.7 L452.9 169.8 L453.5 169.9 L454.2 169.9 L454.9 170.0 L455.6 170.1 L456.2 170.4 L456.9 170.4 L457.5 170.5 L458.2 170.7 L458.8 170.6 L459.4 170.7 L460.1 170.9 L460.7 171.0 L461.3 170.9 L461.9 171.3 L462.5 171.3 L463.1 171.3 L463.7 171.3 L464.3 171.5 L464.9 171.4 L465.5 171.6 L466.0 171.8 L466.6 171.9 L467.2 171.9 L467.7 171.8 L468.3 172.0 L468.8 172.4 L469.4 172.4 L469.9 172.5 L470.5 172.2 L471.0 172.3 L471.6 172.4 L472.1 172.8 L472.6 172.6 L473.1 172.7 L473.7 172.8 L474.2 173.1 L474.7 173.1 L475.2 173.3 L475.7 173.0 L476.2 173.0 L476.7 173.6 L477.2 173.2 L477.7 173.6 L478.2 173.7 L478.7 173.5 L479.1 173.6 L479.6 174.0 L480.1 173.6 L480.6 174.3 L481.0 173.8 L481.5 173.9 L482.0 174.3 L482.4 174.0 L482.9 174.7 L483.3 174.4 L483.8 174.2 L484.2 174.4 L484.7 174.7 L485.1 175.0 L485.6 174.7 L486.0 174.8 L486.4 175.0 L486.9 175.2 L487.3 175.3 L487.7 175.1 L488.2 175.2 L488.6 175.6 L489.0 175.7 L489.4 175.4 L489.8 175.9 L490.2 175.4 L490.7 176.0 L491.1 176.1 L491.5 175.9 L491.9 176.1 L492.3 175.7 L493.1 176.4 L493.9 176.5 L494.6 176.5 L495.4 176.7 L496.2 176.4 L496.9 177.2 L497.7 177.0 L498.4 177.3 L499.2 177.0 L499.9 177.6 L500.6 177.3 L501.3 178.0 L502.0 177.4 L502.7 177.6 L503.4 177.9 L504.1 178.2 L504.8 178.8 L505.5 178.1 L506.1 178.8 L506.8 178.4 L507.4 178.9 L508.1 178.9 L508.7 179.0 L509.4 179.4 L510.0 179.4 L510.6 179.5 L511.2 180.0 L511.9 179.8 L512.5 180.7 L513.1 180.1 L513.7 181.1 L514.3 180.3 L514.9 181.4 L515.5 180.5 L516.0 180.6 L516.6 180.9 L517.2 181.8 L517.8 181.4 L518.3 181.6 L518.9 182.3 L519.4 181.7 L520.0 182.4 L520.5 182.4 L521.1 182.3 L521.6 183.4 L522.2 182.9 L522.7 182.9 L523.2 183.6 L523.7 184.0 L524.3 183.3 L524.8 183.4 L525.3 184.6 L525.8 184.0 L526.3 184.3 L526.8 184.4 L527.3 185.0 L527.8 184.6 L528.3 185.2 L528.8 185.0 L529.3 184.5 L529.7 185.2 L530.2 185.8 L530.7 185.5 L531.2 185.4 L531.6 185.0 L532.1 186.1 L532.6 185.8 L533.0 185.8 L533.5 186.0 L533.9 186.2 L534.4 186.1 L534.9 186.2 L535.3 186.5 L535.7 186.1 L536.2 186.4 L536.6 186.8 L537.1 187.6 L537.5 187.0 L537.9 187.3 L538.4 187.9 L538.8 187.9 L539.2 187.9 L539.6 187.8 L540.0 187.9 L540.5 187.4 L540.9 187.4 L541.3 187.4 L541.7 187.5 L542.1 188.4 L542.5 188.5 L542.9 187.7 L543.3 189.1 L543.9 188.6 L544.5 188.9 L545.1 188.3 L545.7 189.7 L546.2 188.5 L546.8 188.9 L547.4 189.4 L548.0 189.6 L548.5 189.8 L549.1 190.6 L549.6 189.2 L550.2 190.4 L550.7 190.1 L551.3 190.9 L551.8 190.8 L552.3 191.2 L552.8 191.4 L553.4 191.4 L553.9 190.4 L554.4 191.2 L554.9 191.7 L555.4 191.8 L555.9 192.2 L556.4 191.4 L556.9 190.8 L557.4 192.2 L557.9 191.5 L558.4 192.3 L558.9 191.3 L559.4 192.0 L559.9 192.6 L560.3 191.8 L560.8 192.2 L561.3 192.0 L561.7 193.5 L562.2 193.4 L562.7 193.2 L563.1 193.1 L563.6 194.1 L564.0 192.8 L564.5 193.8 L564.9 192.7 L565.4 193.8 L565.8 193.1 L566.3 192.8 L566.7 194.6 L567.1 193.5 L567.6 195.0 L568.0 194.5 L568.4 194.6 L568.8 194.7 L569.3 195.4 L569.7 194.0 L570.1 195.6 L570.5 194.3 L570.9 194.0 L571.3 195.7 L571.7 194.1 L572.1 195.0 L572.6 195.8 L573.0 194.8 L573.5 195.8 L574.0 195.7 L574.5 196.0 L575.1 195.0 L575.6 196.2 L576.1 196.6 L576.6 195.3 L577.1 197.1 L577.6 197.2 L578.1 196.0 L578.6 197.4 L579.1 197.5 L579.6 195.9 L580.1 197.3 L580.5 197.9 L581.0 197.7 L581.5 196.3 L582.0 197.0 L582.4 197.5 L582.9 197.1 L583.4 197.3 L583.8 196.7 L584.3 196.7 L584.7 197.4 L585.2 197.8 L585.6 198.2 L586.1 199.2 L586.5 197.3 L587.0 198.0 L587.4 199.3 L587.8 199.3 L588.3 197.8 L588.7 199.2 L589.1 197.9 L589.6 200.0 L590.0 198.5 L590.4 199.4 L590.8 199.2 L591.2 199.4 L591.7 198.8 L592.1 199.2 L592.5 199.2 L592.9 200.0 L593.3 199.7 L593.7 200.2 L594.1 200.1 L594.6 200.6 L595.1 201.4 L595.6 200.5 L596.1 200.7 L596.5 200.9 L597.0 200.9 L597.5 200.7 L598.0 200.4 L598.4 201.2 L598.9 200.6 L599.4 201.7 L599.8 202.4 L600.3 202.3 L600.8 202.4 L601.2 201.1 L601.7 200.7 L602.1 201.3 L602.6 202.3 L603.0 201.3 L603.4 201.3 L603.9 203.7 L604.3 202.1 L604.8 201.5 L605.2 202.7 L605.6 203.3 L606.0 202.8 L606.5 202.1 L606.9 203.1 L607.3 202.1 L607.7 203.9 L608.1 204.5 L608.5 202.3 L608.9 203.7 L609.3 204.5 L609.8 204.1 L610.2 202.9 L610.6 202.8 L611.1 203.9 L611.6 202.9 L612.1 205.1 L612.5 204.3 L613.0 203.9 L613.4 205.2 L613.9 203.8 L614.4 204.7 L614.8 204.7 L615.3 203.8 L615.7 205.7 L616.2 205.5 L616.6 204.3 L617.0 205.0 L617.5 204.7 L617.9 206.5 L618.3 205.9 L618.8 206.7 L619.2 206.3 L619.6 206.5 L620.0 205.2 L620.5 206.8 L620.9 205.4 L621.3 206.9 L621.7 206.6 L622.1 206.1 L622.5 205.3 L622.9 206.5 L623.3 206.7 L623.7 206.9 L624.2 205.3 L624.6 205.9 L625.1 206.8 L625.6 207.7 L626.0 206.1 L626.5 208.0 L626.9 208.3 L627.4 205.9 L627.8 207.8 L628.2 206.9 L628.7 206.3 L629.1 206.6 L629.5 207.0 L630.0 206.1 L630.4 208.2 L630.8 207.5 L631.2 207.3 L631.7 208.9 L632.1 209.3 L632.5 207.8 L632.9 207.5 L633.3 208.4 L633.7 207.9 L634.1 209.4 L634.5 207.7 L634.9 207.3 L635.4 207.0 L635.8 207.6 L636.3 207.4 L636.7 210.0 L637.2 209.3 L637.6 209.1 L638.1 210.3 L638.5 209.4 L638.9 209.7 L639.4 208.1 L639.8 208.6 L640.2 209.7 L640.6 210.4 L641.1 208.8 L641.5 209.4 L641.9 208.9 L642.3 209.0 L642.7 210.0 L643.1 211.1 L643.5 211.4 L643.9 210.1 L644.3 208.5 L644.7 209.4 L645.2 210.6 L645.6 211.5 L646.1 209.2 L646.5 211.4 L647.0 211.6 L647.4 209.2 L647.8 211.8 L648.3 210.9 L648.7 211.8 L649.1 211.3 L649.5 211.3 L650.0 212.0 L650.4 211.7 L650.8 210.6 L651.2 210.6 L651.6 212.6 L652.0 210.3 L652.4 210.7 L652.8 210.0 L653.2 210.7 L653.7 211.6 L654.1 210.4 L654.5 211.2 L655.0 211.8 L655.4 211.1 L655.8 212.4 L656.3 211.7 L656.7 211.1 L657.1 212.5 L657.5 211.9 L658.0 211.6 L658.4 210.7 L658.8 213.5 L659.2 210.9 L659.6 211.6 L660.0 212.3 L660.4 213.5 L660.8 211.4 L661.3 210.9 L661.7 212.9 L662.1 213.8 L662.6 212.1 L663.0 214.0 L663.4 211.8 L663.8 213.7 L664.3 210.8 L664.7 213.1 L665.1 213.9 L665.5 211.8 L665.9 213.8 L666.3 213.0 L666.8 212.1 L667.2 211.2 L667.6 213.3 L668.0 212.4 L668.4 213.0 L668.8 211.8 L669.3 211.3 L669.7 211.6 L670.1 213.5 L670.5 211.7 L671.0 212.4 L671.4 213.4 L671.8 212.3 L672.2 213.1 L672.6 212.9 L673.0 214.2 L673.4 212.9 L673.8 212.5 L674.2 215.1 L674.7 212.2 L675.1 213.9 L675.5 213.9 L675.9 212.9 L676.4 214.4 L676.8 214.4 L677.2 213.5 L677.6 212.9 L678.0 212.2 L678.4 215.0 L678.9 215.4 L679.3 212.9 L679.7 213.1 L680.1 214.3 L680.5 214.8 L680.9 215.1 L681.4 214.8 L681.8 214.5 L682.2 214.3 L682.6 212.1 L683.0 213.9 L683.4 214.7 L683.9 213.3 L684.3 213.1 L684.7 213.7 L685.1 214.2 L685.5 212.3 L685.9 215.1 L686.3 214.9 L686.8 213.2 L687.2 213.3 L687.6 213.0 L688.0 213.9 L688.4 216.0 L688.8 213.9 L689.2 216.0 L689.6 213.2 L690.1 213.4 L690.5 214.5 L690.9 213.1 L691.3 213.0 L691.7 215.2 L692.1 214.0 L692.5 215.4 L693.0 213.6 L693.4 213.9 L693.8 216.2 L694.2 215.0 L694.6 213.3 L695.0 214.5 L695.4 213.2 L695.8 213.1 L696.2 215.1 L696.7 213.4 L697.1 213.8 L697.5 213.3 L697.9 213.5 L698.3 214.8 L698.7 213.8 L699.1 214.4 L699.5 214.9 L699.9 214.0 L700.3 213.8 L700.8 213.9 L701.2 217.1 L701.6 214.7 L702.0 215.2 L702.4 216.4 L702.8 216.6 L703.2 216.3 L703.6 217.1 L704.0 215.7 L704.5 214.3 L704.9 216.1 L705.3 215.5 L705.7 217.1 L706.1 214.7 L706.5 216.5 L706.9 213.8 L707.3 215.4 L707.7 215.3 L708.1 214.3 L708.6 217.3 L709.0 217.4 L709.4 215.1 L709.8 217.0 L710.2 217.8 L710.6 216.5 L711.0 215.7 L711.4 217.0 L711.8 215.9 L712.2 216.7 L712.7 217.1 L713.1 215.6 L713.5 217.2 L713.9 216.6 L714.3 217.0 L714.7 215.7 L715.1 217.7 L715.5 215.2 L715.9 216.7 L716.4 216.9 L716.8 214.8 L717.2 218.2 L717.6 217.2 L718.0 215.2 L718.4 218.5 L718.8 218.0 L719.2 218.9 L719.6 217.9 L720.0 217.2 L720.4 218.5 L720.9 216.7 L721.3 217.0 L721.7 216.8 L722.1 216.7 L722.5 219.4 L722.9 217.5 L723.3 217.6 L723.7 217.1 L724.1 216.9 L724.5 216.5 L724.9 219.7 L725.3 218.8 L725.8 217.7 L726.2 218.3 L726.6 219.4 L727.0 217.4 L727.4 217.0 L727.8 217.9 L728.2 217.9 L728.6 219.6 L729.0 219.9 L729.4 219.8 L729.8 219.1 L730.2 218.4 L730.6 216.9 L731.0 220.3 L731.5 220.0 L731.9 218.5 L732.3 219.6 L732.7 220.3 L733.1 217.7 L733.5 218.9 L733.9 220.7 L734.3 217.4 L734.7 217.1 L735.1 220.8 L735.5 220.5 L735.9 216.8 L736.3 219.2 L736.7 219.6 L737.2 219.9 L737.6 219.5 L738.0 219.3 L738.4 219.5 L738.8 219.6 L739.2 217.3 L739.6 217.7 L740.0 218.2 L740.4 221.2 L740.8 219.1 L741.2 219.8 L741.6 221.5 L742.0 217.5 L742.5 218.0 L742.9 218.4 L743.3 221.4 L743.7 220.5 L744.1 217.8 L744.5 217.6 L744.9 218.1 L745.3 221.6 L745.7 219.3 L746.1 221.5 L746.5 221.4 L746.9 222.0 L747.3 220.0 L747.7 218.8 L748.1 220.0 L748.5 221.8 L748.9 222.1 L749.4 219.5 L749.8 220.0 L750.2 221.5 L750.6 219.6 L751.0 218.9 L751.4 219.1 L751.8 220.1 L752.2 219.0 L752.6 221.5 L753.0 221.1 L753.4 222.4 L753.8 221.5 L754.2 220.2 L754.6 218.9" fill="none" stroke="#0000ff" stroke-width="2.50" stroke-linejoin="round"/>
<circle cx="202.9" cy="273.8" r="5.2" fill="none" stroke="#0000ff" stroke-width="2.10"/>
<circle cx="258.7" cy="224.0" r="5.2" fill="none" stroke="#0000ff" stroke-width="2.10"/>
<circle cx="361.3" cy="168.7" r="5.2" fill="none" stroke="#0000ff" stroke-width="2.10"/>
<circle cx="416.7" cy="166.2" r="5.2" fill="none" stroke="#0000ff" stroke-width="2.10"/>
<circle cx="528.7" cy="184.9" r="5.2" fill="none" stroke="#0000ff" stroke-width="2.10"/>
<circle cx="585.2" cy="198.0" r="5.2" fill="none" stroke="#0000ff" stroke-width="2.10"/>
<circle cx="697.2" cy="214.9" r="5.2" fill="none" stroke="#0000ff" stroke-width="2.10"/>
<circle cx="753.8" cy="220.3" r="5.2" fill="none" stroke="#0000ff" stroke-width="2.10"/>
<path d="M111.2 373.5 L140.9 371.8 L178.3 369.4 L202.9 367.7 L221.3 366.4 L236.0 365.3 L248.2 364.3 L258.7 363.4 L267.8 362.5 L276.0 361.7 L283.3 360.9 L290.0 360.2 L296.1 359.4 L301.7 358.7 L306.9 358.0 L311.8 357.2 L316.4 356.5 L320.7 355.9 L324.8 355.2 L328.6 354.5 L332.3 353.9 L335.7 353.3 L339.1 352.7 L342.3 352.1 L345.3 351.5 L348.2 350.9 L351.1 350.4 L353.8 349.8 L356.4 349.3 L358.9 348.8 L361.3 348.3 L363.7 347.8 L366.0 347.3 L368.2 346.8 L370.4 346.3 L372.5 345.8 L374.5 345.4 L376.5 344.9 L378.4 344.4 L380.3 343.9 L382.1 343.5 L383.9 343.0 L385.6 342.6 L387.3 342.1 L389.0 341.7 L390.6 341.3 L392.2 340.9 L393.8 340.5 L395.3 340.1 L396.8 339.7 L398.2 339.3 L399.7 338.9 L401.1 338.5 L402.5 338.2 L403.8 337.8 L405.2 337.4 L406.5 337.1 L407.7 336.7 L409.0 336.3 L410.3 336.0 L411.5 335.6 L412.7 335.2 L413.9 334.9 L415.0 334.5 L416.2 334.1 L417.3 333.7 L418.4 333.4 L419.5 333.0 L420.6 332.6 L421.6 332.2 L422.7 331.7 L423.7 331.3 L424.7 330.9 L425.7 330.5 L426.7 330.1 L427.7 329.6 L428.6 329.2 L429.6 328.8 L430.5 328.4 L431.5 328.0 L432.4 327.5 L433.3 327.1 L434.2 326.7 L435.1 326.3 L435.9 325.9 L436.8 325.6 L437.6 325.2 L438.5 324.8 L439.3 324.5 L440.1 324.1 L440.9 323.8 L441.7 323.4 L442.5 323.1 L443.3 322.7 L444.1 322.4 L444.9 322.1 L445.6 321.8 L446.4 321.5 L447.1 321.2 L447.9 320.8 L448.6 320.5 L449.3 320.2 L450.1 319.9 L450.8 319.6 L451.5 319.4 L452.2 319.1 L452.9 318.8 L453.5 318.5 L454.2 318.2 L454.9 317.9 L455.6 317.7 L456.2 317.4 L456.9 317.1 L457.5 316.8 L458.2 316.6 L458.8 316.3 L459.4 316.0 L460.1 315.8 L460.7 315.5 L461.3 315.2 L461.9 315.0 L462.5 314.7 L463.1 314.5 L463.7 314.2 L464.3 314.0 L464.9 313.7 L465.5 313.5 L466.0 313.2 L466.6 313.0 L467.2 312.7 L467.7 312.5 L468.3 312.2 L468.8 312.0 L469.4 311.7 L469.9 311.5 L470.5 311.3 L471.0 311.0 L471.6 310.8 L472.1 310.6 L472.6 310.3 L473.1 310.1 L473.7 309.9 L474.2 309.7 L474.7 309.5 L475.2 309.2 L475.7 309.0 L476.2 308.7 L476.7 308.6 L477.2 308.3 L477.7 308.1 L478.2 307.9 L478.7 307.7 L479.1 307.4 L479.6 307.2 L480.1 307.0 L480.6 306.9 L481.0 306.6 L481.5 306.3 L482.0 306.1 L482.4 306.0 L482.9 305.7 L483.3 305.6 L483.8 305.4 L484.2 305.1 L484.7 304.9 L485.1 304.7 L485.6 304.4 L486.0 304.3 L486.4 304.1 L486.9 303.8 L487.3 303.7 L487.7 303.5 L488.2 303.2 L488.6 303.0 L489.0 302.8 L489.4 302.7 L489.8 302.6 L490.2 302.3 L490.7 301.9 L491.1 301.9 L491.5 301.8 L491.9 301.3 L492.3 301.2 L493.1 300.7 L493.9 300.5 L494.6 299.9 L495.4 299.8 L496.2 299.2 L496.9 298.9 L497.7 298.4 L498.4 298.0 L499.2 297.5 L499.9 297.5 L500.6 296.9 L501.3 296.5 L502.0 296.1 L502.7 295.7 L503.4 295.4 L504.1 295.0 L504.8 294.9 L505.5 294.5 L506.1 293.9 L506.8 293.8 L507.4 293.0 L508.1 292.9 L508.7 292.7 L509.4 292.0 L510.0 291.6 L510.6 291.6 L511.2 291.2 L511.9 291.1 L512.5 290.2 L513.1 289.9 L513.7 289.5 L514.3 289.3 L514.9 288.8 L515.5 288.8 L516.0 288.2 L516.6 288.1 L517.2 287.8 L517.8 287.2 L518.3 287.3 L518.9 287.2 L519.4 286.5 L520.0 286.2 L520.5 285.8 L521.1 285.9 L521.6 285.6 L522.2 285.3 L522.7 284.6 L523.2 284.3 L523.7 283.7 L524.3 283.5 L524.8 283.9 L525.3 283.3 L525.8 282.9 L526.3 282.4 L526.8 282.7 L527.3 281.7 L527.8 282.0 L528.3 281.7 L528.8 281.5 L529.3 281.2 L529.7 280.9 L530.2 280.5 L530.7 280.2 L531.2 280.2 L531.6 279.4 L532.1 279.3 L532.6 279.4 L533.0 279.3 L533.5 278.8 L533.9 278.0 L534.4 278.5 L534.9 278.4 L535.3 277.6 L535.7 277.3 L536.2 277.0 L536.6 277.0 L537.1 276.4 L537.5 276.1 L537.9 276.7 L538.4 276.0 L538.8 275.8 L539.2 275.3 L539.6 274.8 L540.0 274.6 L540.5 274.4 L540.9 274.8 L541.3 274.6 L541.7 274.6 L542.1 274.4 L542.5 273.3 L542.9 272.9 L543.3 273.4 L543.9 272.6 L544.5 273.0 L545.1 272.2 L545.7 271.8 L546.2 271.5 L546.8 271.0 L547.4 271.0 L548.0 270.2 L548.5 270.8 L549.1 270.3 L549.6 270.0 L550.2 269.8 L550.7 269.2 L551.3 269.2 L551.8 268.7 L552.3 268.1 L552.8 267.3 L553.4 267.6 L553.9 267.3 L554.4 267.2 L554.9 267.1 L555.4 266.5 L555.9 265.6 L556.4 265.3 L556.9 266.0 L557.4 265.7 L557.9 264.8 L558.4 264.1 L558.9 263.9 L559.4 263.6 L559.9 264.4 L560.3 263.5 L560.8 263.3 L561.3 263.5 L561.7 262.5 L562.2 262.6 L562.7 262.4 L563.1 261.9 L563.6 261.2 L564.0 261.4 L564.5 260.7 L564.9 260.7 L565.4 260.6 L565.8 260.1 L566.3 260.9 L566.7 260.2 L567.1 260.3 L567.6 260.1 L568.0 258.9 L568.4 258.5 L568.8 259.4 L569.3 258.5 L569.7 258.5 L570.1 258.5 L570.5 257.6 L570.9 257.7 L571.3 257.0 L571.7 256.7 L572.1 256.2 L572.6 256.3 L573.0 256.0 L573.5 256.5 L574.0 255.8 L574.5 255.9 L575.1 254.9 L575.6 254.5 L576.1 254.7 L576.6 254.0 L577.1 254.4 L577.6 253.6 L578.1 253.1 L578.6 253.6 L579.1 252.4 L579.6 253.0 L580.1 252.2 L580.5 251.4 L581.0 252.0 L581.5 251.7 L582.0 250.6 L582.4 250.9 L582.9 250.6 L583.4 250.8 L583.8 249.7 L584.3 250.0 L584.7 250.4 L585.2 248.6 L585.6 249.5 L586.1 248.6 L586.5 248.6 L587.0 248.0 L587.4 248.0 L587.8 247.8 L588.3 248.3 L588.7 247.9 L589.1 247.8 L589.6 247.6 L590.0 246.4 L590.4 246.9 L590.8 246.8 L591.2 245.3 L591.7 246.1 L592.1 245.6 L592.5 244.7 L592.9 245.2 L593.3 245.1 L593.7 244.8 L594.1 243.5 L594.6 244.8 L595.1 243.5 L595.6 244.1 L596.1 242.7 L596.5 243.2 L597.0 242.0 L597.5 242.6 L598.0 242.5 L598.4 241.8 L598.9 242.1 L599.4 241.4 L599.8 240.4 L600.3 240.2 L600.8 239.9 L601.2 240.2 L601.7 241.1 L602.1 239.8 L602.6 240.4 L603.0 239.9 L603.4 239.8 L603.9 239.5 L604.3 238.4 L604.8 239.5 L605.2 238.4 L605.6 239.2 L606.0 237.3 L606.5 237.3 L606.9 237.1 L607.3 238.1 L607.7 236.7 L608.1 237.1 L608.5 237.1 L608.9 236.9 L609.3 236.3 L609.8 237.3 L610.2 236.3 L610.6 235.6 L611.1 236.2 L611.6 235.1 L612.1 236.0 L612.5 234.9 L613.0 236.1 L613.4 234.3 L613.9 234.6 L614.4 234.3 L614.8 234.8 L615.3 234.3 L615.7 234.3 L616.2 234.1 L616.6 234.3 L617.0 233.4 L617.5 233.4 L617.9 233.1 L618.3 232.7 L618.8 233.6 L619.2 234.1 L619.6 233.9 L620.0 233.9 L620.5 231.9 L620.9 233.1 L621.3 231.6 L621.7 233.0 L622.1 233.0 L622.5 232.1 L622.9 233.0 L623.3 231.8 L623.7 231.8 L624.2 231.3 L624.6 232.2 L625.1 231.5 L625.6 231.2 L626.0 230.9 L626.5 231.5 L626.9 229.9 L627.4 231.0 L627.8 229.6 L628.2 229.8 L628.7 229.2 L629.1 230.2 L629.5 231.0 L630.0 229.3 L630.4 228.9 L630.8 229.7 L631.2 228.5 L631.7 229.1 L632.1 229.2 L632.5 228.2 L632.9 230.0 L633.3 228.7 L633.7 229.1 L634.1 227.8 L634.5 229.7 L634.9 227.8 L635.4 228.3 L635.8 227.3 L636.3 227.3 L636.7 227.2 L637.2 227.6 L637.6 226.8 L638.1 227.6 L638.5 227.7 L638.9 226.7 L639.4 227.9 L639.8 226.2 L640.2 227.2 L640.6 227.7 L641.1 227.1 L641.5 225.5 L641.9 225.6 L642.3 225.4 L642.7 225.5 L643.1 226.4 L643.5 227.3 L643.9 225.8 L644.3 226.7 L644.7 225.4 L645.2 227.0 L645.6 225.5 L646.1 224.9 L646.5 224.8 L647.0 224.5 L647.4 224.3 L647.8 226.4 L648.3 225.8 L648.7 224.2 L649.1 225.3 L649.5 224.9 L650.0 223.8 L650.4 226.1 L650.8 224.1 L651.2 224.9 L651.6 224.3 L652.0 224.5 L652.4 225.7 L652.8 225.1 L653.2 223.7 L653.7 224.8 L654.1 224.1 L654.5 223.5 L655.0 224.2 L655.4 223.3 L655.8 224.7 L656.3 223.3 L656.7 222.7 L657.1 224.7 L657.5 222.8 L658.0 224.1 L658.4 224.5 L658.8 224.1 L659.2 224.6 L659.6 222.7 L660.0 223.0 L660.4 223.6 L660.8 222.2 L661.3 224.4 L661.7 223.5 L662.1 223.5 L662.6 223.2 L663.0 222.9 L663.4 222.0 L663.8 221.8 L664.3 222.1 L664.7 221.5 L665.1 223.0 L665.5 221.8 L665.9 223.8 L666.3 221.5 L666.8 222.1 L667.2 223.5 L667.6 222.8 L668.0 222.2 L668.4 223.1 L668.8 222.2 L669.3 221.5 L669.7 223.8 L670.1 223.4 L670.5 223.1 L671.0 221.8 L671.4 222.4 L671.8 221.2 L672.2 221.0 L672.6 223.6 L673.0 222.1 L673.4 221.5 L673.8 223.1 L674.2 222.4 L674.7 222.7 L675.1 221.1 L675.5 222.1 L675.9 222.0 L676.4 221.6 L676.8 221.3 L677.2 223.3 L677.6 222.9 L678.0 222.4 L678.4 221.5 L678.9 222.6 L679.3 221.9 L679.7 220.7 L680.1 222.5 L680.5 222.6 L680.9 223.5 L681.4 223.1 L681.8 220.9 L682.2 221.6 L682.6 220.8 L683.0 220.8 L683.4 222.0 L683.9 221.2 L684.3 220.8 L684.7 222.5 L685.1 223.4 L685.5 223.1 L685.9 220.7 L686.3 221.5 L686.8 220.7 L687.2 221.8 L687.6 223.4 L688.0 221.1 L688.4 222.8 L688.8 222.0 L689.2 222.1 L689.6 223.1 L690.1 221.4 L690.5 221.5 L690.9 222.8 L691.3 220.9 L691.7 220.8 L692.1 221.7 L692.5 221.7 L693.0 221.4 L693.4 221.2 L693.8 223.2 L694.2 221.7 L694.6 221.4 L695.0 222.9 L695.4 223.1 L695.8 222.6 L696.2 223.5 L696.7 220.8 L697.1 221.8 L697.5 223.0 L697.9 223.5 L698.3 221.0 L698.7 222.8 L699.1 221.1 L699.5 221.7 L699.9 222.8 L700.3 222.9 L700.8 220.6 L701.2 221.3 L701.6 223.6 L702.0 222.3 L702.4 222.4 L702.8 221.3 L703.2 222.0 L703.6 221.4 L704.0 221.0 L704.5 221.5 L704.9 222.4 L705.3 222.3 L705.7 222.3 L706.1 221.7 L706.5 222.1 L706.9 223.5 L707.3 223.7 L707.7 223.7 L708.1 221.5 L708.6 222.8 L709.0 223.3 L709.4 221.8 L709.8 222.4 L710.2 223.7 L710.6 223.2 L711.0 223.3 L711.4 221.1 L711.8 221.1 L712.2 223.3 L712.7 222.9 L713.1 221.5 L713.5 221.0 L713.9 221.8 L714.3 223.2 L714.7 222.3 L715.1 223.3 L715.5 221.6 L715.9 223.4 L716.4 221.5 L716.8 224.3 L717.2 222.1 L717.6 221.3 L718.0 224.1 L718.4 222.4 L718.8 222.7 L719.2 221.8 L719.6 222.1 L720.0 222.8 L720.4 222.4 L720.9 223.2 L721.3 222.4 L721.7 223.0 L722.1 221.6 L722.5 223.3 L722.9 223.7 L723.3 224.8 L723.7 224.2 L724.1 221.9 L724.5 223.0 L724.9 224.4 L725.3 224.3 L725.8 221.9 L726.2 221.8 L726.6 223.6 L727.0 223.4 L727.4 222.3 L727.8 222.8 L728.2 223.1 L728.6 224.7 L729.0 222.9 L729.4 224.9 L729.8 225.0 L730.2 222.9 L730.6 225.1 L731.0 222.3 L731.5 223.5 L731.9 222.5 L732.3 223.3 L732.7 223.2 L733.1 225.0 L733.5 225.3 L733.9 223.5 L734.3 223.5 L734.7 225.9 L735.1 222.9 L735.5 224.1 L735.9 224.6 L736.3 224.9 L736.7 223.0 L737.2 223.7 L737.6 223.1 L738.0 225.4 L738.4 225.3 L738.8 225.7 L739.2 224.3 L739.6 222.7 L740.0 226.1 L740.4 223.1 L740.8 223.6 L741.2 222.9 L741.6 224.4 L742.0 225.6 L742.5 226.5 L742.9 225.1 L743.3 223.4 L743.7 226.5 L744.1 223.5 L744.5 224.0 L744.9 224.1 L745.3 226.7 L745.7 224.9 L746.1 226.6 L746.5 225.6 L746.9 225.3 L747.3 226.6 L747.7 224.4 L748.1 224.7 L748.5 227.3 L748.9 226.1 L749.4 225.3 L749.8 226.3 L750.2 226.9 L750.6 226.8 L751.0 226.0 L751.4 226.6 L751.8 225.1 L752.2 226.1 L752.6 227.8 L753.0 228.0 L753.4 224.5 L753.8 225.5 L754.2 225.6 L754.6 225.9" fill="none" stroke="#ff0000" stroke-width="2.50" stroke-linejoin="round"/>
<rect x="197.6" y="362.4" width="10.6" height="10.6" fill="none" stroke="#ff0000" stroke-width="2.10"/>
<rect x="253.4" y="358.1" width="10.6" height="10.6" fill="none" stroke="#ff0000" stroke-width="2.10"/>
<rect x="356.0" y="343.0" width="10.6" height="10.6" fill="none" stroke="#ff0000" stroke-width="2.10"/>
<rect x="411.4" y="328.6" width="10.6" height="10.6" fill="none" stroke="#ff0000" stroke-width="2.10"/>
<rect x="523.4" y="276.1" width="10.6" height="10.6" fill="none" stroke="#ff0000" stroke-width="2.10"/>
<rect x="579.9" y="244.1" width="10.6" height="10.6" fill="none" stroke="#ff0000" stroke-width="2.10"/>
<rect x="691.9" y="216.7" width="10.6" height="10.6" fill="none" stroke="#ff0000" stroke-width="2.10"/>
<rect x="748.5" y="221.2" width="10.6" height="10.6" fill="none" stroke="#ff0000" stroke-width="2.10"/>
<path d="M111.5 151.0 L114.2 151.0 L117.2 151.1 L118.5 151.1 M127.3 151.2 L130.2 151.3 L133.2 151.3 L134.3 151.3 M144.1 151.5 L146.2 151.5 L149.2 151.6 L151.1 151.6 M154.5 151.6 L157.2 151.7 L160.2 151.7 L161.5 151.7 M171.0 151.9 L173.2 151.9 L176.2 152.0 L178.0 152.0 M187.4 152.2 L190.2 152.2 L193.2 152.3 L194.4 152.3 M203.9 152.4 L206.2 152.5 L209.2 152.5 L210.9 152.6 M220.4 152.7 L223.2 152.8 L226.2 152.8 L227.4 152.8 M237.0 153.0 L239.2 153.1 L242.2 153.1 L244.0 153.1 M253.3 153.3 L256.2 153.4 L259.2 153.4 L260.3 153.4 M269.7 153.6 L272.2 153.6 L275.2 153.7 L276.7 153.7 M277.5 153.7 L280.2 153.8 L283.2 153.8 L284.5 153.9 M294.9 154.1 L297.2 154.1 L300.2 154.2 L301.9 154.3 M311.3 154.5 L314.2 154.6 L317.2 154.7 L318.3 154.8 M322.8 154.9 L325.2 155.0 L328.2 155.2 L329.8 155.2 M340.1 155.7 L342.2 155.8 L345.2 156.0 L347.1 156.1 M356.0 156.6 L358.2 156.7 L361.2 156.9 L363.0 157.0 M371.9 157.6 L374.2 157.8 L377.2 158.1 L378.9 158.2 M388.5 159.2 L391.2 159.5 L394.2 159.8 L395.5 159.9 M405.4 161.1 L408.2 161.4 L411.2 161.8 L412.4 162.0 M422.7 163.4 L425.2 163.8 L428.2 164.3 L429.6 164.6 M440.0 166.4 L442.2 166.7 L445.2 167.2 L447.0 167.5 M447.5 167.6 L450.2 168.0 L453.2 168.5 L454.5 168.7 M462.7 170.0 L465.2 170.4 L468.2 170.9 L469.7 171.1 M479.3 172.6 L482.2 173.1 L485.2 173.6 L486.2 173.8 M496.0 175.7 L498.2 176.2 L501.2 176.9 L502.8 177.3 M512.7 179.8 L515.2 180.4 L518.2 181.1 L519.5 181.5 M526.8 183.2 L529.2 183.8 L532.2 184.5 L533.6 184.8 M541.0 186.4 L543.2 186.9 L546.2 187.6 L547.8 188.0 M556.8 190.1 L559.2 190.7 L562.2 191.4 L563.6 191.8 M572.6 194.1 L575.2 194.8 L578.2 195.6 L579.4 195.9 M589.1 198.2 L591.2 198.7 L594.2 199.4 L595.9 199.7 M605.1 201.6 L607.2 202.0 L610.2 202.6 L611.9 203.0 M620.4 204.6 L623.2 205.2 L626.2 205.8 L627.2 206.0 M636.0 207.6 L638.2 208.0 L641.2 208.5 L642.8 208.8 M651.6 210.2 L654.2 210.7 L657.2 211.1 L658.6 211.4 M667.1 212.7 L669.2 213.0 L672.2 213.4 L674.1 213.6 M683.2 214.8 L686.2 215.1 L689.2 215.5 L690.2 215.7 M700.0 217.0 L702.2 217.2 L705.2 217.6 L707.0 217.9 M716.1 219.0 L718.2 219.2 L721.2 219.6 L723.1 219.8 M732.5 221.0 L735.2 221.3 L738.2 221.7 L739.5 221.9 M748.9 223.2 L751.2 223.5 L754.2 224.0 L755.9 224.3 M764.9 225.9 L767.2 226.3 L770.2 226.8 L771.7 227.1 M780.4 228.7 L783.2 229.3 L785.0 229.6" fill="none" stroke="#a0a0a0" stroke-width="3.50"/>
<path d="M111.5 374.6 L114.2 374.4 L117.2 374.3 L118.5 374.2 M127.3 373.7 L130.2 373.5 L133.2 373.4 L134.3 373.3 M144.1 372.7 L146.2 372.6 L149.2 372.4 L151.1 372.3 M154.5 372.0 L157.2 371.9 L160.2 371.7 L161.5 371.6 M171.0 371.0 L173.2 370.8 L176.2 370.6 L178.0 370.5 M187.4 369.9 L190.2 369.7 L193.2 369.5 L194.4 369.4 M203.9 368.7 L206.2 368.5 L209.2 368.3 L210.9 368.2 M220.4 367.5 L223.2 367.3 L226.2 367.1 L227.4 367.0 M237.0 366.2 L239.2 366.1 L242.2 365.8 L244.0 365.7 M253.3 364.9 L256.2 364.6 L259.2 364.3 L260.3 364.2 M269.7 363.3 L272.2 363.1 L275.2 362.8 L276.7 362.6 M277.5 362.5 L280.2 362.2 L283.2 361.9 L284.5 361.7 M294.9 360.5 L297.2 360.2 L300.2 359.8 L301.9 359.5 M311.3 358.1 L314.2 357.7 L317.2 357.2 L318.3 357.0 M322.9 356.2 L325.2 355.8 L328.2 355.2 L329.7 354.9 M340.2 352.9 L342.2 352.4 L345.2 351.8 L347.0 351.4 M356.1 349.5 L358.2 349.0 L361.2 348.3 L362.9 348.0 M372.0 345.7 L374.2 345.1 L377.2 344.3 L378.8 343.8 M388.6 341.0 L391.2 340.3 L394.2 339.5 L395.4 339.1 M404.2 336.6 L407.2 335.7 L410.2 334.8 L410.9 334.6 M419.6 331.6 L422.2 330.5 L425.2 329.3 L426.0 328.9 M434.4 325.1 L437.2 323.8 L440.2 322.5 L440.8 322.2 M449.2 318.6 L452.2 317.3 L455.2 316.0 L455.6 315.8 M464.0 312.1 L466.2 311.1 L469.2 309.8 L470.4 309.2 M478.8 305.5 L481.2 304.4 L484.2 303.0 L485.2 302.5 M493.4 298.5 L496.2 297.0 L499.2 295.5 L499.6 295.2 M507.7 290.9 L510.2 289.5 L513.2 287.8 L513.8 287.4 M521.8 282.9 L524.2 281.6 L527.2 279.9 L527.9 279.5 M535.9 274.9 L538.2 273.6 L541.2 271.9 L542.0 271.5 M550.2 266.9 L553.2 265.3 L556.2 263.6 L556.4 263.5 M564.7 258.8 L567.2 257.4 L570.2 255.8 L570.9 255.4 M579.4 250.8 L582.2 249.2 L585.2 247.6 L585.6 247.4 M594.2 242.9 L596.2 241.9 L599.2 240.3 L600.4 239.7 M608.4 235.8 L611.2 234.6 L614.2 233.5 L614.9 233.2 M623.3 230.4 L626.2 229.6 L629.2 228.7 L630.0 228.5 M638.6 226.3 L641.2 225.6 L644.2 225.0 L645.4 224.7 M654.2 223.2 L656.2 222.9 L659.2 222.4 L661.1 222.2 M669.9 221.4 L672.2 221.3 L675.2 221.3 L676.9 221.2 M685.8 221.1 L688.2 221.0 L691.2 221.0 L692.8 221.0 M701.7 221.1 L704.2 221.2 L707.2 221.3 L708.7 221.4 M717.5 222.1 L720.2 222.3 L723.2 222.6 L724.5 222.7 M733.3 223.4 L736.2 223.7 L739.2 224.1 L740.3 224.2 M749.1 225.2 L751.2 225.5 L754.2 225.9 L756.1 226.1 M764.8 227.4 L767.2 227.7 L770.2 228.2 L771.8 228.4 M780.1 229.7 L782.2 230.0 L785.0 230.4" fill="none" stroke="#ff0000" stroke-width="3.50"/>
</g>
<path d="M111.20 392.40 V9.00 H785.30 V392.40" fill="none" stroke="#1a1a1a" stroke-width="2.0" stroke-linejoin="miter"/><path d="M110.20 392.40 H786.30" fill="none" stroke="#1a1a1a" stroke-width="1.50"/>
<path d="M111.20 401.20 v7.20 M161.93 401.20 v3.80 M191.61 401.20 v3.80 M212.66 401.20 v3.80 M228.99 401.20 v3.80 M242.34 401.20 v3.80 M253.62 401.20 v3.80 M263.39 401.20 v3.80 M272.01 401.20 v3.80 M279.72 401.20 v7.20 M330.46 401.20 v3.80 M360.13 401.20 v3.80 M381.19 401.20 v3.80 M397.52 401.20 v3.80 M410.86 401.20 v3.80 M422.15 401.20 v3.80 M431.92 401.20 v3.80 M440.54 401.20 v3.80 M448.25 401.20 v7.20 M498.98 401.20 v3.80 M528.66 401.20 v3.80 M549.71 401.20 v3.80 M566.04 401.20 v3.80 M579.39 401.20 v3.80 M590.67 401.20 v3.80 M600.44 401.20 v3.80 M609.06 401.20 v3.80 M616.77 401.20 v7.20 M667.51 401.20 v3.80 M697.18 401.20 v3.80 M718.24 401.20 v3.80 M734.57 401.20 v3.80 M747.91 401.20 v3.80 M759.20 401.20 v3.80 M768.97 401.20 v3.80 M777.59 401.20 v3.80 M785.30 401.20 v7.20" stroke="#3c3c3c" stroke-width="0.9" fill="none"/><path d="M111.20 784.50 v-7.20 M161.93 784.50 v-3.80 M191.61 784.50 v-3.80 M212.66 784.50 v-3.80 M228.99 784.50 v-3.80 M242.34 784.50 v-3.80 M253.62 784.50 v-3.80 M263.39 784.50 v-3.80 M272.01 784.50 v-3.80 M279.72 784.50 v-7.20 M330.46 784.50 v-3.80 M360.13 784.50 v-3.80 M381.19 784.50 v-3.80 M397.52 784.50 v-3.80 M410.86 784.50 v-3.80 M422.15 784.50 v-3.80 M431.92 784.50 v-3.80 M440.54 784.50 v-3.80 M448.25 784.50 v-7.20 M498.98 784.50 v-3.80 M528.66 784.50 v-3.80 M549.71 784.50 v-3.80 M566.04 784.50 v-3.80 M579.39 784.50 v-3.80 M590.67 784.50 v-3.80 M600.44 784.50 v-3.80 M609.06 784.50 v-3.80 M616.77 784.50 v-7.20 M667.51 784.50 v-3.80 M697.18 784.50 v-3.80 M718.24 784.50 v-3.80 M734.57 784.50 v-3.80 M747.91 784.50 v-3.80 M759.20 784.50 v-3.80 M768.97 784.50 v-3.80 M777.59 784.50 v-3.80 M785.30 784.50 v-7.20" stroke="#3c3c3c" stroke-width="0.9" fill="none"/>
<path d="M111.20 767.40 h7.20 M785.30 767.40 h-7.20 M111.20 697.62 h7.20 M785.30 697.62 h-7.20 M111.20 627.84 h7.20 M785.30 627.84 h-7.20 M111.20 558.06 h7.20 M785.30 558.06 h-7.20 M111.20 488.28 h7.20 M785.30 488.28 h-7.20 M111.20 418.50 h7.20 M785.30 418.50 h-7.20 M111.20 732.51 h3.80 M785.30 732.51 h-3.80 M111.20 662.73 h3.80 M785.30 662.73 h-3.80 M111.20 592.95 h3.80 M785.30 592.95 h-3.80 M111.20 523.17 h3.80 M785.30 523.17 h-3.80 M111.20 453.39 h3.80 M785.30 453.39 h-3.80" stroke="#3c3c3c" stroke-width="0.9" fill="none"/>
<g clip-path="url(#c2)">
<path d="M111.2 418.5 L140.9 418.5 L178.3 418.5 L202.9 418.5 L221.3 418.5 L236.0 418.5 L248.2 418.5 L258.7 418.5 L267.8 418.5 L276.0 418.5 L283.3 418.5 L290.0 418.5 L296.1 418.5 L301.7 418.5 L306.9 418.5 L311.8 418.5 L316.4 418.5 L320.7 418.5 L324.8 418.5 L328.6 418.5 L332.3 418.5 L335.7 418.5 L339.1 418.5 L342.3 418.5 L345.3 418.5 L348.2 418.5 L351.1 418.5 L353.8 418.5 L356.4 418.5 L358.9 418.5 L361.3 418.5 L363.7 418.5 L366.0 418.5 L368.2 418.5 L370.4 418.5 L372.5 418.5 L374.5 418.5 L376.5 418.5 L378.4 418.5 L380.3 418.5 L382.1 418.5 L383.9 418.5 L385.6 418.5 L387.3 418.5 L389.0 418.5 L390.6 418.5 L392.2 418.5 L393.8 418.5 L395.3 418.5 L396.8 418.5 L398.2 418.5 L399.7 418.5 L401.1 418.5 L402.5 418.5 L403.8 418.5 L405.2 418.5 L406.5 418.5 L407.7 418.5 L409.0 418.5 L410.3 418.5 L411.5 418.5 L412.7 418.5 L413.9 418.5 L415.0 418.5 L416.2 418.5 L417.3 418.5 L418.4 418.5 L419.5 418.5 L420.6 418.5 L421.6 418.5 L422.7 418.5 L423.7 418.5 L424.7 418.5 L425.7 418.5 L427.7 418.5 L429.6 418.5 L431.5 418.5 L433.3 418.5 L435.1 418.5 L436.8 418.5 L438.5 418.5 L440.1 418.5 L441.7 418.5 L443.3 418.5 L444.9 418.5 L446.4 418.5 L447.9 418.5 L449.3 418.5 L450.8 418.5 L452.2 418.5 L453.5 418.5 L454.9 418.5 L456.2 418.5 L457.5 418.5 L458.8 418.5 L460.1 418.5 L461.3 418.5 L462.5 418.5 L463.7 418.5 L464.9 418.5 L466.0 418.5 L467.2 418.5 L468.3 418.5 L469.4 418.5 L470.5 418.5 L471.6 418.5 L472.6 418.5 L473.7 418.5 L474.7 418.5 L475.7 418.5 L477.2 418.5 L478.7 418.5 L480.1 418.5 L481.5 418.5 L482.9 418.5 L484.2 418.5 L485.6 418.5 L486.9 418.5 L488.2 418.5 L489.4 418.5 L490.7 418.5 L491.9 418.5 L493.1 418.5 L494.3 418.5 L495.4 418.5 L496.6 418.5 L497.7 418.5 L498.8 418.5 L499.9 418.5 L501.0 418.5 L502.0 418.5 L503.1 418.5 L504.1 418.5 L505.1 418.5 L506.1 418.5 L507.4 418.5 L508.7 418.5 L510.0 418.5 L511.2 418.5 L512.5 418.5 L513.7 418.5 L514.9 418.5 L516.0 418.5 L517.2 418.5 L518.3 418.5 L519.4 418.5 L520.5 418.5 L521.6 418.5 L522.7 418.5 L523.7 418.5 L524.8 418.5 L525.8 418.5 L526.8 418.5 L528.0 418.6 L529.3 418.6 L530.5 418.6 L531.6 418.6 L532.8 418.6 L533.9 418.6 L535.1 418.6 L536.2 418.6 L537.3 418.6 L538.4 418.6 L539.4 418.6 L540.5 418.6 L541.5 418.6 L542.5 418.6 L543.5 418.6 L544.7 418.6 L545.9 418.6 L547.0 418.6 L548.1 418.7 L549.3 418.7 L550.3 418.7 L551.4 418.7 L552.5 418.7 L553.5 418.7 L554.6 418.7 L555.6 418.7 L556.6 418.7 L557.8 418.7 L558.9 418.7 L560.0 418.7 L561.1 418.7 L562.2 418.7 L563.3 418.8 L564.3 418.8 L565.4 418.8 L566.4 418.8 L567.4 418.8 L568.6 418.8 L569.7 418.8 L570.8 418.8 L571.9 418.8 L573.0 418.8 L574.0 418.8 L575.1 418.8 L576.1 418.9 L577.1 418.9 L578.1 418.9 L579.2 418.9 L580.3 418.9 L581.4 418.9 L582.4 418.9 L583.5 418.9 L584.5 418.9 L585.5 418.9 L586.5 418.9 L587.6 419.0 L588.7 419.0 L589.8 419.0 L590.8 419.0 L591.9 419.0 L592.9 419.0 L593.9 419.0 L595.0 419.0 L596.1 419.0 L597.1 419.0 L598.2 419.1 L599.2 419.1 L600.2 419.1 L601.2 419.1 L602.3 419.1 L603.4 419.1 L604.4 419.2 L605.4 419.2 L606.5 419.2 L607.5 419.2 L608.5 419.2 L609.6 419.3 L610.6 419.3 L611.7 419.3 L612.7 419.3 L613.7 419.4 L614.8 419.4 L615.9 419.4 L616.9 419.4 L617.9 419.5 L618.9 419.5 L620.0 419.5 L621.0 419.5 L622.0 419.6 L623.0 419.6 L624.0 419.6 L625.1 419.7 L626.1 419.7 L627.2 419.7 L628.2 419.7 L629.2 419.8 L630.3 419.8 L631.3 419.8 L632.3 419.9 L633.4 419.9 L634.4 419.9 L635.4 420.0 L636.5 420.0 L637.5 420.0 L638.5 420.1 L639.6 420.1 L640.6 420.1 L641.6 420.1 L642.7 420.2 L643.7 420.2 L644.7 420.2 L645.7 420.3 L646.8 420.3 L647.8 420.3 L648.8 420.4 L649.9 420.4 L650.9 420.5 L651.9 420.5 L652.9 420.5 L653.9 420.6 L654.9 420.6 L656.0 420.7 L657.0 420.7 L658.0 420.7 L659.0 420.8 L660.1 420.8 L661.1 420.9 L662.1 420.9 L663.1 421.0 L664.1 421.0 L665.1 421.0 L666.2 421.1 L667.2 421.1 L668.2 421.2 L669.2 421.2 L670.3 421.3 L671.3 421.3 L672.3 421.4 L673.3 421.4 L674.3 421.5 L675.3 421.5 L676.3 421.6 L677.4 421.6 L678.4 421.7 L679.4 421.7 L680.4 421.8 L681.4 421.8 L682.4 421.9 L683.4 421.9 L684.5 422.0 L685.5 422.0 L686.5 422.1 L687.5 422.1 L688.5 422.2 L689.5 422.2 L690.6 422.3 L691.6 422.4 L692.6 422.4 L693.6 422.5 L694.6 422.5 L695.6 422.6 L696.6 422.7 L697.6 422.8 L698.6 422.8 L699.7 422.9 L700.7 423.0 L701.7 423.1 L702.7 423.1 L703.7 423.2 L704.7 423.3 L705.7 423.4 L706.7 423.5 L707.8 423.6 L708.8 423.7 L709.8 423.8 L710.8 423.9 L711.8 424.0 L712.8 424.1 L713.8 424.2 L714.8 424.3 L715.8 424.4 L716.9 424.5 L717.9 424.6 L718.9 424.7 L719.9 424.8 L720.9 424.9 L721.9 425.0 L722.9 425.1 L723.9 425.2 L724.9 425.3 L725.9 425.4 L727.0 425.5 L728.0 425.6 L729.0 425.6 L730.0 425.7 L731.0 425.8 L732.0 425.9 L733.0 426.0 L734.0 426.1 L735.0 426.2 L736.0 426.3 L737.0 426.4 L738.0 426.5 L739.1 426.6 L740.1 426.7 L741.1 426.8 L742.1 426.9 L743.1 426.9 L744.1 427.0 L745.1 427.1 L746.1 427.2 L747.1 427.3 L748.1 427.4 L749.1 427.5 L750.1 427.6 L751.2 427.7 L752.2 427.8 L753.2 427.9 L754.2 428.0 L754.6 428.0" fill="none" stroke="#0000ff" stroke-width="2.50" stroke-linejoin="round"/>
<path d="M111.2 767.4 L140.9 767.4 L178.3 767.4 L202.9 767.4 L221.3 767.4 L236.0 767.4 L248.2 767.4 L258.7 767.4 L267.8 767.4 L276.0 767.4 L283.3 767.4 L290.0 767.4 L296.1 767.4 L301.7 767.4 L306.9 767.4 L311.8 767.4 L316.4 767.4 L320.7 767.4 L324.8 767.4 L328.6 767.4 L332.3 767.4 L335.7 767.4 L339.1 767.4 L342.3 767.4 L345.3 767.4 L348.2 767.4 L351.1 767.4 L353.8 767.4 L356.4 767.4 L358.9 767.4 L361.3 767.4 L363.7 767.4 L366.0 767.4 L368.2 767.4 L370.4 767.4 L372.5 767.4 L374.5 767.4 L376.5 767.4 L378.4 767.4 L380.3 767.4 L382.1 767.4 L383.9 767.4 L385.6 767.4 L387.3 767.4 L389.0 767.4 L390.6 767.4 L392.2 767.4 L393.8 767.4 L395.3 767.4 L396.8 767.4 L398.2 767.4 L399.7 767.4 L401.1 767.4 L402.5 767.4 L403.8 767.4 L405.2 767.4 L406.5 767.4 L407.7 767.4 L409.0 767.4 L410.3 767.4 L411.5 767.4 L412.7 767.4 L413.9 767.4 L415.0 767.4 L416.2 767.4 L417.3 767.4 L418.4 767.4 L419.5 767.4 L420.6 767.4 L421.6 767.4 L422.7 767.4 L423.7 767.4 L424.7 767.4 L425.7 767.4 L427.7 767.4 L429.6 767.4 L431.5 767.4 L433.3 767.4 L435.1 767.4 L436.8 767.4 L438.5 767.4 L440.1 767.4 L441.7 767.4 L443.3 767.4 L444.9 767.4 L446.4 767.4 L447.9 767.4 L449.3 767.4 L450.8 767.4 L452.2 767.4 L453.5 767.4 L454.9 767.4 L456.2 767.4 L457.5 767.4 L458.8 767.4 L460.1 767.4 L461.3 767.4 L462.5 767.4 L463.7 767.4 L464.9 767.4 L466.0 767.4 L467.2 767.4 L468.3 767.4 L469.4 767.4 L470.5 767.4 L471.6 767.4 L472.6 767.4 L473.7 767.4 L474.7 767.4 L475.7 767.4 L477.2 767.4 L478.7 767.4 L480.1 767.4 L481.5 767.4 L482.9 767.4 L484.2 767.4 L485.6 767.4 L486.9 767.4 L488.2 767.4 L489.4 767.4 L490.7 767.4 L491.9 767.4 L493.1 767.4 L494.3 767.4 L495.4 767.4 L496.6 767.4 L497.7 767.4 L498.8 767.4 L499.9 767.4 L501.0 767.4 L502.0 767.4 L503.1 767.4 L504.1 767.4 L505.1 767.4 L506.1 767.4 L507.4 767.4 L508.7 767.4 L510.0 767.4 L511.2 767.4 L512.5 767.4 L513.7 767.4 L514.9 767.4 L516.0 767.4 L517.2 767.4 L518.3 767.4 L519.4 767.4 L520.5 767.4 L521.6 767.4 L522.7 767.4 L523.7 767.4 L524.8 767.4 L525.8 767.4 L526.8 767.4 L528.0 767.4 L529.3 767.4 L530.5 767.4 L531.6 767.3 L532.8 767.3 L533.9 767.3 L535.1 767.3 L536.2 767.3 L537.3 767.3 L538.4 767.3 L539.4 767.3 L540.5 767.3 L541.5 767.3 L542.5 767.3 L543.5 767.3 L544.7 767.3 L545.9 767.3 L547.0 767.3 L548.1 767.3 L549.3 767.3 L550.3 767.3 L551.4 767.3 L552.5 767.3 L553.5 767.3 L554.6 767.3 L555.6 767.2 L556.6 767.2 L557.8 767.2 L558.9 767.2 L560.0 767.2 L561.1 767.2 L562.2 767.2 L563.3 767.2 L564.3 767.2 L565.4 767.2 L566.4 767.2 L567.4 767.2 L568.6 767.2 L569.7 767.2 L570.8 767.2 L571.9 767.2 L573.0 767.1 L574.0 767.1 L575.1 767.1 L576.1 767.1 L577.1 767.1 L578.1 767.1 L579.2 767.1 L580.3 767.1 L581.4 767.1 L582.4 767.1 L583.5 767.1 L584.5 767.1 L585.5 767.1 L586.5 767.1 L587.6 767.0 L588.7 767.0 L589.8 767.0 L590.8 767.0 L591.9 767.0 L592.9 767.0 L593.9 767.0 L595.0 767.0 L596.1 767.0 L597.1 767.0 L598.2 766.9 L599.2 766.9 L600.2 766.9 L601.2 766.9 L602.3 766.9 L603.4 766.9 L604.4 766.8 L605.4 766.8 L606.5 766.8 L607.5 766.8 L608.5 766.7 L609.6 766.7 L610.6 766.7 L611.7 766.7 L612.7 766.6 L613.7 766.6 L614.8 766.6 L615.9 766.6 L616.9 766.5 L617.9 766.5 L618.9 766.5 L620.0 766.4 L621.0 766.4 L622.0 766.4 L623.0 766.3 L624.0 766.3 L625.1 766.3 L626.1 766.2 L627.2 766.2 L628.2 766.2 L629.2 766.1 L630.3 766.1 L631.3 766.0 L632.3 766.0 L633.4 766.0 L634.4 765.9 L635.4 765.9 L636.5 765.9 L637.5 765.8 L638.5 765.8 L639.6 765.7 L640.6 765.7 L641.6 765.7 L642.7 765.6 L643.7 765.6 L644.7 765.6 L645.7 765.5 L646.8 765.5 L647.8 765.4 L648.8 765.4 L649.9 765.3 L650.9 765.3 L651.9 765.2 L652.9 765.2 L653.9 765.1 L654.9 765.1 L656.0 765.0 L657.0 765.0 L658.0 764.9 L659.0 764.9 L660.1 764.8 L661.1 764.8 L662.1 764.7 L663.1 764.6 L664.1 764.6 L665.1 764.5 L666.2 764.5 L667.2 764.4 L668.2 764.3 L669.2 764.3 L670.3 764.2 L671.3 764.1 L672.3 764.1 L673.3 764.0 L674.3 763.9 L675.3 763.8 L676.3 763.8 L677.4 763.7 L678.4 763.6 L679.4 763.5 L680.4 763.4 L681.4 763.3 L682.4 763.2 L683.4 763.2 L684.5 763.1 L685.5 763.0 L686.5 762.9 L687.5 762.8 L688.5 762.7 L689.5 762.6 L690.6 762.5 L691.6 762.4 L692.6 762.4 L693.6 762.3 L694.6 762.2 L695.6 762.1 L696.6 762.0 L697.6 761.9 L698.6 761.9 L699.7 761.8 L700.7 761.7 L701.7 761.6 L702.7 761.5 L703.7 761.5 L704.7 761.4 L705.7 761.3 L706.7 761.2 L707.8 761.1 L708.8 761.1 L709.8 761.0 L710.8 760.9 L711.8 760.8 L712.8 760.7 L713.8 760.6 L714.8 760.6 L715.8 760.5 L716.9 760.4 L717.9 760.3 L718.9 760.2 L719.9 760.2 L720.9 760.1 L721.9 760.0 L722.9 759.9 L723.9 759.8 L724.9 759.7 L725.9 759.6 L727.0 759.6 L728.0 759.5 L729.0 759.4 L730.0 759.3 L731.0 759.2 L732.0 759.1 L733.0 759.0 L734.0 758.9 L735.0 758.8 L736.0 758.7 L737.0 758.7 L738.0 758.6 L739.1 758.5 L740.1 758.4 L741.1 758.3 L742.1 758.2 L743.1 758.1 L744.1 758.0 L745.1 757.9 L746.1 757.8 L747.1 757.7 L748.1 757.6 L749.1 757.5 L750.1 757.4 L751.2 757.3 L752.2 757.2 L753.2 757.1 L754.2 757.0 L754.6 757.0" fill="none" stroke="#87ceeb" stroke-width="2.50" stroke-linejoin="round"/>
<path d="M111.5 418.5 L114.2 418.5 L117.2 418.5 L118.5 418.5 M127.3 418.5 L130.2 418.5 L133.2 418.5 L134.3 418.5 M144.1 418.5 L146.2 418.5 L149.2 418.5 L151.1 418.5 M154.5 418.5 L157.2 418.5 L160.2 418.5 L161.5 418.5 M171.0 418.5 L173.2 418.5 L176.2 418.5 L178.0 418.5 M187.4 418.5 L190.2 418.5 L193.2 418.5 L194.4 418.5 M203.9 418.5 L206.2 418.5 L209.2 418.5 L210.9 418.5 M220.4 418.5 L223.2 418.5 L226.2 418.5 L227.4 418.5 M237.0 418.5 L239.2 418.5 L242.2 418.5 L244.0 418.5 M253.3 418.5 L256.2 418.5 L259.2 418.5 L260.3 418.5 M269.7 418.5 L272.2 418.5 L275.2 418.5 L276.7 418.5 M277.5 418.5 L280.2 418.5 L283.2 418.5 L284.5 418.5 M294.9 418.5 L297.2 418.5 L300.2 418.5 L301.9 418.5 M311.3 418.5 L314.2 418.5 L317.2 418.5 L318.3 418.5 M322.8 418.5 L325.2 418.5 L328.2 418.5 L329.8 418.5 M340.1 418.5 L342.2 418.5 L345.2 418.5 L347.1 418.5 M356.0 418.5 L358.2 418.5 L361.2 418.5 L363.0 418.5 M371.9 418.5 L374.2 418.5 L377.2 418.5 L378.9 418.5 M388.5 418.5 L391.2 418.5 L394.2 418.5 L395.5 418.5 M405.4 418.5 L408.2 418.5 L411.2 418.5 L412.4 418.5 M422.7 418.5 L425.2 418.5 L428.2 418.5 L429.7 418.5 M440.0 418.5 L442.2 418.5 L445.2 418.5 L447.0 418.5 M447.5 418.5 L450.2 418.5 L453.2 418.5 L454.5 418.5 M462.7 418.5 L465.2 418.5 L468.2 418.5 L469.7 418.5 M479.3 418.5 L482.2 418.5 L485.2 418.5 L486.3 418.5 M495.9 418.5 L498.2 418.5 L501.2 418.5 L502.9 418.5 M512.6 418.5 L515.2 418.5 L518.2 418.5 L519.6 418.5 M526.8 418.5 L529.2 418.6 L532.2 418.6 L533.8 418.6 M540.9 418.6 L543.2 418.6 L546.2 418.6 L547.9 418.6 M556.7 418.7 L559.2 418.7 L562.2 418.7 L563.7 418.8 M572.5 418.8 L575.2 418.8 L578.2 418.9 L579.5 418.9 M589.0 419.0 L591.2 419.0 L594.2 419.0 L596.0 419.0 M605.0 419.2 L607.2 419.2 L610.2 419.3 L612.0 419.3 M620.3 419.5 L623.2 419.6 L626.2 419.7 L627.3 419.7 M635.9 420.0 L638.2 420.1 L641.2 420.2 L642.9 420.3 M651.6 420.7 L654.2 420.8 L657.2 421.0 L658.6 421.1 M667.1 421.6 L669.2 421.7 L672.2 421.9 L674.1 422.1 M683.2 422.8 L686.2 423.0 L689.2 423.3 L690.2 423.3 M700.0 424.3 L702.2 424.6 L705.2 425.0 L707.0 425.3 M716.1 426.7 L718.2 427.0 L721.2 427.4 L723.1 427.7 M732.5 428.9 L735.2 429.2 L738.2 429.5 L739.5 429.7 M748.9 430.9 L751.2 431.2 L754.2 431.7 L755.9 431.9 M764.9 433.5 L767.2 434.0 L770.2 434.6 L771.7 434.9 M780.4 436.8 L783.2 437.5 L785.0 437.9" fill="none" stroke="#0000ff" stroke-width="3.50"/>
<path d="M111.5 767.4 L114.2 767.4 L117.2 767.4 L118.5 767.4 M127.3 767.4 L130.2 767.4 L133.2 767.4 L134.3 767.4 M144.1 767.4 L146.2 767.4 L149.2 767.4 L151.1 767.4 M154.5 767.4 L157.2 767.4 L160.2 767.4 L161.5 767.4 M171.0 767.4 L173.2 767.4 L176.2 767.4 L178.0 767.4 M187.4 767.4 L190.2 767.4 L193.2 767.4 L194.4 767.4 M203.9 767.4 L206.2 767.4 L209.2 767.4 L210.9 767.4 M220.4 767.4 L223.2 767.4 L226.2 767.4 L227.4 767.4 M237.0 767.4 L239.2 767.4 L242.2 767.4 L244.0 767.4 M253.3 767.4 L256.2 767.4 L259.2 767.4 L260.3 767.4 M269.7 767.4 L272.2 767.4 L275.2 767.4 L276.7 767.4 M277.5 767.4 L280.2 767.4 L283.2 767.4 L284.5 767.4 M294.9 767.4 L297.2 767.4 L300.2 767.4 L301.9 767.4 M311.3 767.4 L314.2 767.4 L317.2 767.4 L318.3 767.4 M322.8 767.4 L325.2 767.4 L328.2 767.4 L329.8 767.4 M340.1 767.4 L342.2 767.4 L345.2 767.4 L347.1 767.4 M356.0 767.4 L358.2 767.4 L361.2 767.4 L363.0 767.4 M371.9 767.4 L374.2 767.4 L377.2 767.4 L378.9 767.4 M388.5 767.4 L391.2 767.4 L394.2 767.4 L395.5 767.4 M405.4 767.4 L408.2 767.4 L411.2 767.4 L412.4 767.4 M422.7 767.4 L425.2 767.4 L428.2 767.4 L429.7 767.4 M440.0 767.4 L442.2 767.4 L445.2 767.4 L447.0 767.4 M447.5 767.4 L450.2 767.4 L453.2 767.4 L454.5 767.4 M462.7 767.4 L465.2 767.4 L468.2 767.4 L469.7 767.4 M479.3 767.4 L482.2 767.4 L485.2 767.4 L486.3 767.4 M495.9 767.4 L498.2 767.4 L501.2 767.4 L502.9 767.4 M512.6 767.4 L515.2 767.4 L518.2 767.4 L519.6 767.4 M526.8 767.4 L529.2 767.4 L532.2 767.3 L533.8 767.3 M540.9 767.3 L543.2 767.3 L546.2 767.3 L547.9 767.3 M556.7 767.2 L559.2 767.2 L562.2 767.2 L563.7 767.2 M572.5 767.2 L575.2 767.1 L578.2 767.1 L579.5 767.1 M589.0 767.0 L591.2 767.0 L594.2 767.0 L596.0 767.0 M605.0 766.8 L607.2 766.8 L610.2 766.7 L612.0 766.6 M620.3 766.4 L623.2 766.3 L626.2 766.1 L627.3 766.1 M635.9 765.7 L638.2 765.6 L641.2 765.5 L642.9 765.4 M651.6 764.9 L654.2 764.8 L657.2 764.5 L658.6 764.4 M667.1 763.7 L669.2 763.6 L672.2 763.3 L674.1 763.1 M683.2 762.1 L686.2 761.7 L689.2 761.4 L690.2 761.3 M700.0 760.2 L702.2 759.9 L705.2 759.6 L707.0 759.4 M716.1 758.4 L718.2 758.2 L721.2 757.8 L723.1 757.6 M732.5 756.5 L735.2 756.1 L738.2 755.7 L739.5 755.5 M748.9 754.2 L751.2 753.9 L754.2 753.4 L755.9 753.2 M764.9 751.7 L767.2 751.3 L770.2 750.8 L771.7 750.5 M780.4 748.9 L783.2 748.4 L785.0 748.0" fill="none" stroke="#87ceeb" stroke-width="3.50"/>
<rect x="197.6" y="413.2" width="10.6" height="10.6" fill="none" stroke="#0000ff" stroke-width="2.10"/>
<rect x="253.4" y="413.2" width="10.6" height="10.6" fill="none" stroke="#0000ff" stroke-width="2.10"/>
<rect x="356.0" y="413.2" width="10.6" height="10.6" fill="none" stroke="#0000ff" stroke-width="2.10"/>
<rect x="411.4" y="413.2" width="10.6" height="10.6" fill="none" stroke="#0000ff" stroke-width="2.10"/>
<rect x="523.4" y="413.3" width="10.6" height="10.6" fill="none" stroke="#0000ff" stroke-width="2.10"/>
<rect x="579.9" y="413.6" width="10.6" height="10.6" fill="none" stroke="#0000ff" stroke-width="2.10"/>
<rect x="691.9" y="417.4" width="10.6" height="10.6" fill="none" stroke="#0000ff" stroke-width="2.10"/>
<rect x="748.5" y="422.6" width="10.6" height="10.6" fill="none" stroke="#0000ff" stroke-width="2.10"/>
<circle cx="202.9" cy="767.4" r="5.2" fill="none" stroke="#87ceeb" stroke-width="2.10"/>
<circle cx="258.7" cy="767.4" r="5.2" fill="none" stroke="#87ceeb" stroke-width="2.10"/>
<circle cx="361.3" cy="767.4" r="5.2" fill="none" stroke="#87ceeb" stroke-width="2.10"/>
<circle cx="416.7" cy="767.4" r="5.2" fill="none" stroke="#87ceeb" stroke-width="2.10"/>
<circle cx="528.7" cy="767.4" r="5.2" fill="none" stroke="#87ceeb" stroke-width="2.10"/>
<circle cx="585.2" cy="767.1" r="5.2" fill="none" stroke="#87ceeb" stroke-width="2.10"/>
<circle cx="697.2" cy="762.0" r="5.2" fill="none" stroke="#87ceeb" stroke-width="2.10"/>
<circle cx="753.8" cy="757.1" r="5.2" fill="none" stroke="#87ceeb" stroke-width="2.10"/>
</g>
<path d="M111.20 784.50 V401.20 H785.30 V784.50" fill="none" stroke="#1a1a1a" stroke-width="2.0" stroke-linejoin="miter"/><path d="M110.20 784.50 H786.30" fill="none" stroke="#1a1a1a" stroke-width="2.00"/>
<path d="M509.4 31.1 H574.8" stroke="#000000" stroke-width="2.5"/>
<polygon points="542.1,25.5 536.9,34.1 547.3,34.1" fill="none" stroke="#000000" stroke-width="2.10" stroke-linejoin="miter"/>
<path d="M509.4 61.5 H574.8" stroke="#a0a0a0" stroke-width="2.5"/>
<polygon points="542.1,67.2 536.9,58.7 547.3,58.7" fill="none" stroke="#a0a0a0" stroke-width="2.10" stroke-linejoin="miter"/>
<path d="M509.4 91.8 H574.8" stroke="#0000ff" stroke-width="2.5"/>
<circle cx="542.1" cy="91.8" r="5.2" fill="none" stroke="#0000ff" stroke-width="2.10"/>
<path d="M509.4 122.1 H574.8" stroke="#ff0000" stroke-width="2.5"/>
<rect x="536.8" y="116.8" width="10.6" height="10.6" fill="none" stroke="#ff0000" stroke-width="2.10"/>
<path d="M691.0 31.1 H747.6" stroke="#a0a0a0" stroke-width="3.5" stroke-dasharray="7.1 9.4"/>
<path d="M691.0 61.5 H747.6" stroke="#ff0000" stroke-width="3.5" stroke-dasharray="7.1 9.4"/>
<path d="M226.8 547.6 H292.6" stroke="#0000ff" stroke-width="2.5"/>
<path d="M226.8 577.9 H292.6" stroke="#87ceeb" stroke-width="2.5"/>
<path d="M226.8 608.2 H284.0" stroke="#0000ff" stroke-width="3.5" stroke-dasharray="7.3 9.3"/>
<path d="M226.8 638.5 H284.0" stroke="#87ceeb" stroke-width="3.5" stroke-dasharray="7.3 9.3"/>
<g style="opacity:0.999">
<text x="96.50" y="399.20" text-anchor="end" font-size="24.30">0</text>
<text x="96.50" y="323.22" text-anchor="end" font-size="24.30">2000</text>
<text x="96.50" y="247.24" text-anchor="end" font-size="24.30">4000</text>
<text x="96.50" y="171.26" text-anchor="end" font-size="24.30">6000</text>
<text x="96.50" y="95.28" text-anchor="end" font-size="24.30">8000</text>
<text x="96.50" y="19.30" text-anchor="end" font-size="24.30">10000</text>
<text x="96.50" y="775.70" text-anchor="end" font-size="24.30">0</text>
<text x="96.50" y="705.92" text-anchor="end" font-size="24.30">0.2</text>
<text x="96.50" y="636.14" text-anchor="end" font-size="24.30">0.4</text>
<text x="96.50" y="566.36" text-anchor="end" font-size="24.30">0.6</text>
<text x="96.50" y="496.58" text-anchor="end" font-size="24.30">0.8</text>
<text x="96.50" y="426.80" text-anchor="end" font-size="24.30">1</text>
<text x="111.20" y="819.80" text-anchor="middle" font-size="24.30">10<tspan dy="-12.2" font-size="19.44">-3</tspan></text>
<text x="279.72" y="819.80" text-anchor="middle" font-size="24.30">10<tspan dy="-12.2" font-size="19.44">-2</tspan></text>
<text x="448.25" y="819.80" text-anchor="middle" font-size="24.30">10<tspan dy="-12.2" font-size="19.44">-1</tspan></text>
<text x="616.77" y="819.80" text-anchor="middle" font-size="24.30">10<tspan dy="-12.2" font-size="19.44">0</tspan></text>
<text x="785.30" y="819.80" text-anchor="middle" font-size="24.30">10<tspan dy="-12.2" font-size="19.44">1</tspan></text>
<text transform="translate(21.8 200.5) rotate(-90)" text-anchor="middle" font-size="24.30">temperature [K]</text>
<text transform="translate(21.8 592.5) rotate(-90)" text-anchor="middle" font-size="24.30">mole fractions [-]</text>
<text x="448" y="853" text-anchor="middle" font-size="24.30">time [<tspan font-family='"Liberation Serif", serif' font-weight="normal">μ</tspan>s]</text>
<text x="494.60" y="36.90" text-anchor="end" font-size="24.30">DMS: T<tspan dy="7.0" font-size="19.44">t</tspan></text>
<text x="494.60" y="66.80" text-anchor="end" font-size="24.30">T<tspan dy="7.2" font-size="19.44">t-r</tspan></text>
<text x="494.60" y="95.20" text-anchor="end" font-size="24.30">T<tspan dy="7.2" font-size="19.44">r, O</tspan><tspan dy="5.5" font-size="15.55">2</tspan></text>
<text x="494.60" y="125.30" text-anchor="end" font-size="24.30">T<tspan dy="7.2" font-size="19.44">v, O</tspan><tspan dy="5.5" font-size="15.55">2</tspan></text>
<text x="676.40" y="39.20" text-anchor="end" font-size="24.30">CFD: T</text>
<text x="676.40" y="66.80" text-anchor="end" font-size="24.30">T<tspan dy="7.0" font-size="19.44">v</tspan></text>
<text x="212.60" y="553.30" text-anchor="end" font-size="24.30">DMS: O<tspan dy="6.6" font-size="18.95">2</tspan></text>
<text x="212.60" y="585.90" text-anchor="end" font-size="24.30">O</text>
<text x="212.60" y="613.80" text-anchor="end" font-size="24.30">CFD: O<tspan dy="6.6" font-size="18.95">2</tspan></text>
<text x="212.60" y="646.40" text-anchor="end" font-size="24.30">O</text>
</g>
</svg>
</body></html>
